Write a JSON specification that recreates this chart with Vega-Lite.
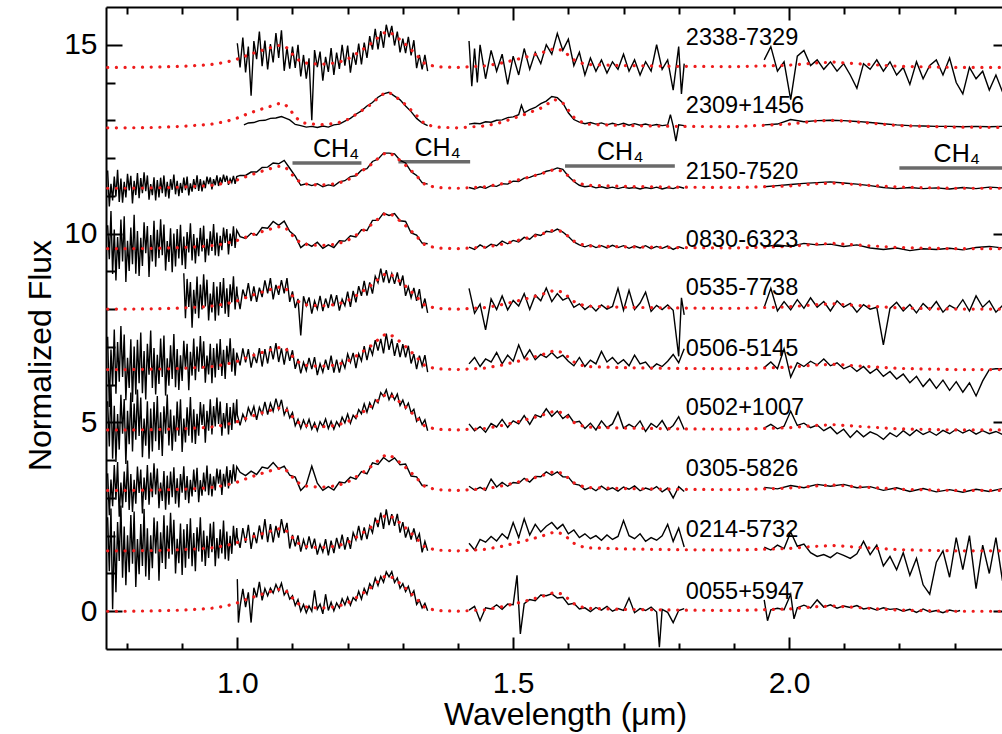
{
"$schema":"https://vega.github.io/schema/vega-lite/v6.json",
"width":896,"height":642,
"autosize":{"type":"none"},
"padding":{"left":106,"top":7,"right":0,"bottom":85},
"config":{"view":{"stroke":null},"font":"Liberation Sans",
"axis":{"domainColor":"#000","domainWidth":2,"tickColor":"#000","tickWidth":2,"labelColor":"#000","labelFontSize":30,"labelFont":"Liberation Sans","titleFont":"Liberation Sans","titleFontSize":32,"titleFontWeight":"normal","titleColor":"#000","grid":false,"labelFlush":false,"labelOverlap":false,"labelBound":false}},
"datasets":{
"ch4":[{"x":1.10,"x2":1.225,"y":11.87,"lx":1.179},{"x":1.292,"x2":1.422,"y":11.9,"lx":1.363},{"x":1.594,"x2":1.793,"y":11.79,"lx":1.694},{"x":2.2,"x2":2.45,"y":11.74,"lx":2.304}],
"lab":[{"t":"2338-7329","x":1.813,"y":15.18},{"t":"2309+1456","x":1.813,"y":13.38},{"t":"2150-7520","x":1.813,"y":11.63},{"t":"0830-6323","x":1.813,"y":9.83},{"t":"0535-7738","x":1.813,"y":8.56},{"t":"0506-5145","x":1.813,"y":6.94},{"t":"0502+1007","x":1.813,"y":5.38},{"t":"0305-5826","x":1.813,"y":3.77},{"t":"0214-5732","x":1.813,"y":2.16},{"t":"0055+5947","x":1.813,"y":0.51}],
"obs":[
{"g":11,"x":1.0,"y":0.85},{"g":11,"x":1.002,"y":-0.3},{"g":11,"x":1.005,"y":0.13},{"g":11,"x":1.01,"y":0.59},{"g":11,"x":1.015,"y":0.11},{"g":11,"x":1.02,"y":0.5},{"g":11,"x":1.025,"y":-0.3},{"g":11,"x":1.03,"y":0.62},{"g":11,"x":1.035,"y":0.37},{"g":11,"x":1.04,"y":0.78},{"g":11,"x":1.045,"y":0.29},{"g":11,"x":1.05,"y":0.6},{"g":11,"x":1.055,"y":0.41},{"g":11,"x":1.06,"y":0.61},{"g":11,"x":1.065,"y":0.48},{"g":11,"x":1.07,"y":0.71},{"g":11,"x":1.075,"y":0.54},{"g":11,"x":1.08,"y":0.74},{"g":11,"x":1.085,"y":0.43},{"g":11,"x":1.09,"y":0.55},{"g":11,"x":1.095,"y":0.32},{"g":11,"x":1.1,"y":0.41},{"g":11,"x":1.105,"y":0.15},{"g":11,"x":1.11,"y":0.31},{"g":11,"x":1.115,"y":0.0},{"g":11,"x":1.12,"y":0.18},{"g":11,"x":1.125,"y":-0.04},{"g":11,"x":1.13,"y":0.14},{"g":11,"x":1.135,"y":0.0},{"g":11,"x":1.14,"y":0.55},{"g":11,"x":1.145,"y":0.05},{"g":11,"x":1.15,"y":0.19},{"g":11,"x":1.155,"y":-0.07},{"g":11,"x":1.16,"y":0.45},{"g":11,"x":1.165,"y":0.02},{"g":11,"x":1.17,"y":0.24},{"g":11,"x":1.175,"y":0.01},{"g":11,"x":1.18,"y":0.22},{"g":11,"x":1.185,"y":0.09},{"g":11,"x":1.19,"y":0.33},{"g":11,"x":1.195,"y":0.17},{"g":11,"x":1.2,"y":0.37},{"g":11,"x":1.205,"y":0.16},{"g":11,"x":1.21,"y":0.36},{"g":11,"x":1.215,"y":0.28},{"g":11,"x":1.22,"y":0.53},{"g":11,"x":1.225,"y":0.32},{"g":11,"x":1.23,"y":0.6},{"g":11,"x":1.235,"y":0.45},{"g":11,"x":1.24,"y":0.73},{"g":11,"x":1.245,"y":0.61},{"g":11,"x":1.25,"y":0.88},{"g":11,"x":1.255,"y":0.68},{"g":11,"x":1.26,"y":0.92},{"g":11,"x":1.265,"y":0.77},{"g":11,"x":1.27,"y":1.04},{"g":11,"x":1.275,"y":0.91},{"g":11,"x":1.28,"y":1.05},{"g":11,"x":1.285,"y":0.76},{"g":11,"x":1.29,"y":0.88},{"g":11,"x":1.295,"y":0.61},{"g":11,"x":1.3,"y":0.73},{"g":11,"x":1.305,"y":0.52},{"g":11,"x":1.31,"y":0.66},{"g":11,"x":1.315,"y":0.41},{"g":11,"x":1.32,"y":0.54},{"g":11,"x":1.325,"y":0.18},{"g":11,"x":1.33,"y":0.29},{"g":11,"x":1.335,"y":0.09},{"g":11,"x":1.34,"y":0.21},{"g":11,"x":1.345,"y":0.01},
{"g":12,"x":1.42,"y":0.03},{"g":12,"x":1.43,"y":0.13},{"g":12,"x":1.44,"y":-0.25},{"g":12,"x":1.45,"y":0.09},{"g":12,"x":1.46,"y":0.06},{"g":12,"x":1.47,"y":0.17},{"g":12,"x":1.48,"y":0.05},{"g":12,"x":1.49,"y":0.19},{"g":12,"x":1.5,"y":0.17},{"g":12,"x":1.507,"y":0.95},{"g":12,"x":1.513,"y":-0.6},{"g":12,"x":1.52,"y":0.2},{"g":12,"x":1.53,"y":0.31},{"g":12,"x":1.54,"y":0.28},{"g":12,"x":1.55,"y":0.43},{"g":12,"x":1.56,"y":0.41},{"g":12,"x":1.57,"y":0.46},{"g":12,"x":1.58,"y":0.35},{"g":12,"x":1.59,"y":0.37},{"g":12,"x":1.6,"y":0.18},{"g":12,"x":1.61,"y":0.21},{"g":12,"x":1.62,"y":0.06},{"g":12,"x":1.63,"y":0.09},{"g":12,"x":1.64,"y":-0.01},{"g":12,"x":1.65,"y":0.1},{"g":12,"x":1.66,"y":0.03},{"g":12,"x":1.67,"y":0.13},{"g":12,"x":1.68,"y":0},{"g":12,"x":1.69,"y":0.07},{"g":12,"x":1.7,"y":0.02},{"g":12,"x":1.71,"y":0.35},{"g":12,"x":1.72,"y":-0.04},{"g":12,"x":1.73,"y":0.07},{"g":12,"x":1.74,"y":0.02},{"g":12,"x":1.75,"y":0.11},{"g":12,"x":1.76,"y":-0.02},{"g":12,"x":1.765,"y":-0.95},{"g":12,"x":1.77,"y":0.05},{"g":12,"x":1.78,"y":-0.03},{"g":12,"x":1.79,"y":-0.3},{"g":12,"x":1.8,"y":0.02},{"g":12,"x":1.81,"y":0.07},
{"g":13,"x":1.955,"y":0.3},{"g":13,"x":1.961,"y":-0.25},{"g":13,"x":1.967,"y":0.04},{"g":13,"x":1.979,"y":0.08},{"g":13,"x":1.991,"y":0.04},{"g":13,"x":2.003,"y":0.45},{"g":13,"x":2.009,"y":-0.2},{"g":13,"x":2.015,"y":0.09},{"g":13,"x":2.027,"y":0.16},{"g":13,"x":2.039,"y":0.09},{"g":13,"x":2.051,"y":0.3},{"g":13,"x":2.063,"y":0.11},{"g":13,"x":2.075,"y":0.17},{"g":13,"x":2.087,"y":0.08},{"g":13,"x":2.099,"y":0.14},{"g":13,"x":2.111,"y":0.1},{"g":13,"x":2.123,"y":0.15},{"g":13,"x":2.135,"y":0.06},{"g":13,"x":2.147,"y":0.09},{"g":13,"x":2.159,"y":0.03},{"g":13,"x":2.171,"y":0.09},{"g":13,"x":2.183,"y":0.05},{"g":13,"x":2.195,"y":0.07},{"g":13,"x":2.207,"y":0},{"g":13,"x":2.219,"y":0.05},{"g":13,"x":2.231,"y":-0.03},{"g":13,"x":2.243,"y":0.06},{"g":13,"x":2.255,"y":-0.02},{"g":13,"x":2.267,"y":0.02},{"g":13,"x":2.279,"y":-0.04},{"g":13,"x":2.291,"y":0.03},{"g":13,"x":2.303,"y":-0.01},{"g":13,"x":2.31,"y":0.02},
{"g":21,"x":0.765,"y":2.49},{"g":21,"x":0.768,"y":1.06},{"g":21,"x":0.771,"y":2.72},{"g":21,"x":0.774,"y":0.05},{"g":21,"x":0.777,"y":2.12},{"g":21,"x":0.78,"y":0.5},{"g":21,"x":0.783,"y":2.36},{"g":21,"x":0.786,"y":1.33},{"g":21,"x":0.789,"y":2.8},{"g":21,"x":0.792,"y":0.89},{"g":21,"x":0.795,"y":2.24},{"g":21,"x":0.798,"y":0.69},{"g":21,"x":0.801,"y":2.01},{"g":21,"x":0.804,"y":1.03},{"g":21,"x":0.807,"y":2.55},{"g":21,"x":0.81,"y":1.26},{"g":21,"x":0.813,"y":2.64},{"g":21,"x":0.816,"y":0.64},{"g":21,"x":0.819,"y":1.91},{"g":21,"x":0.822,"y":0.98},{"g":21,"x":0.825,"y":2.31},{"g":21,"x":0.828,"y":1.2},{"g":21,"x":0.831,"y":2.71},{"g":21,"x":0.834,"y":0.92},{"g":21,"x":0.837,"y":2.2},{"g":21,"x":0.84,"y":0.83},{"g":21,"x":0.843,"y":2.01},{"g":21,"x":0.846,"y":1.14},{"g":21,"x":0.849,"y":2.48},{"g":21,"x":0.852,"y":1.53},{"g":21,"x":0.855,"y":2.38},{"g":21,"x":0.858,"y":0.81},{"g":21,"x":0.861,"y":2.09},{"g":21,"x":0.864,"y":1.28},{"g":21,"x":0.867,"y":2.54},{"g":21,"x":0.87,"y":1.12},{"g":21,"x":0.873,"y":2.27},{"g":21,"x":0.876,"y":1.39},{"g":21,"x":0.879,"y":2.61},{"g":21,"x":0.882,"y":1.5},{"g":21,"x":0.885,"y":2.42},{"g":21,"x":0.888,"y":1.0},{"g":21,"x":0.891,"y":1.92},{"g":21,"x":0.894,"y":1.27},{"g":21,"x":0.897,"y":2.32},{"g":21,"x":0.9,"y":0.96},{"g":21,"x":0.903,"y":2.17},{"g":21,"x":0.906,"y":1.15},{"g":21,"x":0.909,"y":2.31},{"g":21,"x":0.912,"y":1.39},{"g":21,"x":0.915,"y":2.46},{"g":21,"x":0.918,"y":1.19},{"g":21,"x":0.921,"y":2.07},{"g":21,"x":0.924,"y":1.06},{"g":21,"x":0.927,"y":2.22},{"g":21,"x":0.93,"y":1.58},{"g":21,"x":0.933,"y":2.49},{"g":21,"x":0.936,"y":1.31},{"g":21,"x":0.939,"y":2.14},{"g":21,"x":0.942,"y":1.2},{"g":21,"x":0.945,"y":2.0},{"g":21,"x":0.948,"y":1.41},{"g":21,"x":0.951,"y":2.32},{"g":21,"x":0.954,"y":1.56},{"g":21,"x":0.957,"y":2.37},{"g":21,"x":0.96,"y":1.19},{"g":21,"x":0.963,"y":1.94},{"g":21,"x":0.966,"y":1.4},{"g":21,"x":0.969,"y":2.17},{"g":21,"x":0.972,"y":1.53},{"g":21,"x":0.975,"y":2.4},{"g":21,"x":0.978,"y":1.38},{"g":21,"x":0.981,"y":2.11},{"g":21,"x":0.984,"y":1.34},{"g":21,"x":0.987,"y":2.0},{"g":21,"x":0.99,"y":1.52},{"g":21,"x":0.993,"y":2.26},{"g":21,"x":0.996,"y":1.74},{"g":21,"x":0.999,"y":2.2},
{"g":21,"x":1.0,"y":1.97},{"g":21,"x":1.005,"y":1.68},{"g":21,"x":1.01,"y":2.2},{"g":21,"x":1.015,"y":1.81},{"g":21,"x":1.02,"y":2.29},{"g":21,"x":1.025,"y":1.65},{"g":21,"x":1.03,"y":2.09},{"g":21,"x":1.035,"y":1.8},{"g":21,"x":1.04,"y":2.27},{"g":21,"x":1.045,"y":1.9},{"g":21,"x":1.05,"y":2.44},{"g":21,"x":1.055,"y":1.83},{"g":21,"x":1.06,"y":2.31},{"g":21,"x":1.065,"y":1.82},{"g":21,"x":1.07,"y":2.26},{"g":21,"x":1.075,"y":1.95},{"g":21,"x":1.08,"y":2.44},{"g":21,"x":1.085,"y":2.07},{"g":21,"x":1.09,"y":2.34},{"g":21,"x":1.095,"y":1.66},{"g":21,"x":1.1,"y":2.02},{"g":21,"x":1.105,"y":1.72},{"g":21,"x":1.11,"y":2.01},{"g":21,"x":1.115,"y":1.58},{"g":21,"x":1.12,"y":1.89},{"g":21,"x":1.125,"y":1.64},{"g":21,"x":1.13,"y":1.98},{"g":21,"x":1.135,"y":1.66},{"g":21,"x":1.14,"y":1.92},{"g":21,"x":1.145,"y":1.5},{"g":21,"x":1.15,"y":1.77},{"g":21,"x":1.155,"y":1.57},{"g":21,"x":1.16,"y":1.91},{"g":21,"x":1.165,"y":1.48},{"g":21,"x":1.17,"y":1.87},{"g":21,"x":1.175,"y":1.54},{"g":21,"x":1.18,"y":1.94},{"g":21,"x":1.185,"y":1.66},{"g":21,"x":1.19,"y":2.03},{"g":21,"x":1.195,"y":1.63},{"g":21,"x":1.2,"y":1.96},{"g":21,"x":1.205,"y":1.65},{"g":21,"x":1.21,"y":2.08},{"g":21,"x":1.215,"y":1.89},{"g":21,"x":1.22,"y":2.26},{"g":21,"x":1.225,"y":1.88},{"g":21,"x":1.23,"y":2.22},{"g":21,"x":1.235,"y":1.91},{"g":21,"x":1.24,"y":2.26},{"g":21,"x":1.245,"y":2.08},{"g":21,"x":1.25,"y":2.48},{"g":21,"x":1.255,"y":2.23},{"g":21,"x":1.26,"y":2.61},{"g":21,"x":1.265,"y":2.18},{"g":21,"x":1.27,"y":2.7},{"g":21,"x":1.275,"y":2.28},{"g":21,"x":1.28,"y":2.57},{"g":21,"x":1.285,"y":2.26},{"g":21,"x":1.29,"y":2.58},{"g":21,"x":1.295,"y":2.08},{"g":21,"x":1.3,"y":2.36},{"g":21,"x":1.305,"y":1.95},{"g":21,"x":1.31,"y":2.19},{"g":21,"x":1.315,"y":1.9},{"g":21,"x":1.32,"y":2.19},{"g":21,"x":1.325,"y":1.88},{"g":21,"x":1.33,"y":2.05},{"g":21,"x":1.335,"y":1.56},{"g":21,"x":1.34,"y":1.85},{"g":21,"x":1.345,"y":1.6},
{"g":22,"x":1.42,"y":1.8},{"g":22,"x":1.43,"y":1.62},{"g":22,"x":1.44,"y":1.9},{"g":22,"x":1.45,"y":1.83},{"g":22,"x":1.46,"y":1.98},{"g":22,"x":1.47,"y":1.86},{"g":22,"x":1.48,"y":2.05},{"g":22,"x":1.49,"y":1.92},{"g":22,"x":1.5,"y":2.35},{"g":22,"x":1.51,"y":1.95},{"g":22,"x":1.52,"y":2.45},{"g":22,"x":1.53,"y":2.02},{"g":22,"x":1.54,"y":2.3},{"g":22,"x":1.55,"y":2.1},{"g":22,"x":1.56,"y":2.25},{"g":22,"x":1.57,"y":2.35},{"g":22,"x":1.58,"y":2.18},{"g":22,"x":1.59,"y":2.3},{"g":22,"x":1.6,"y":2.05},{"g":22,"x":1.61,"y":2.15},{"g":22,"x":1.62,"y":1.95},{"g":22,"x":1.63,"y":2.05},{"g":22,"x":1.64,"y":1.92},{"g":22,"x":1.65,"y":2.0},{"g":22,"x":1.66,"y":1.88},{"g":22,"x":1.67,"y":2.02},{"g":22,"x":1.68,"y":1.9},{"g":22,"x":1.69,"y":1.98},{"g":22,"x":1.7,"y":2.4},{"g":22,"x":1.71,"y":2.0},{"g":22,"x":1.72,"y":1.92},{"g":22,"x":1.73,"y":2.05},{"g":22,"x":1.74,"y":1.85},{"g":22,"x":1.75,"y":1.95},{"g":22,"x":1.76,"y":1.88},{"g":22,"x":1.77,"y":2.0},{"g":22,"x":1.78,"y":2.3},{"g":22,"x":1.79,"y":1.85},{"g":22,"x":1.8,"y":2.2},{"g":22,"x":1.81,"y":1.7},
{"g":23,"x":1.955,"y":1.7},{"g":23,"x":1.967,"y":1.62},{"g":23,"x":1.979,"y":1.75},{"g":23,"x":1.991,"y":1.66},{"g":23,"x":2.003,"y":2.1},{"g":23,"x":2.015,"y":1.72},{"g":23,"x":2.027,"y":1.78},{"g":23,"x":2.039,"y":1.55},{"g":23,"x":2.051,"y":1.45},{"g":23,"x":2.063,"y":1.5},{"g":23,"x":2.075,"y":1.42},{"g":23,"x":2.087,"y":1.55},{"g":23,"x":2.099,"y":1.48},{"g":23,"x":2.111,"y":1.4},{"g":23,"x":2.123,"y":1.52},{"g":23,"x":2.135,"y":1.85},{"g":23,"x":2.147,"y":1.5},{"g":23,"x":2.159,"y":1.75},{"g":23,"x":2.171,"y":1.2},{"g":23,"x":2.183,"y":1.45},{"g":23,"x":2.195,"y":1.1},{"g":23,"x":2.207,"y":1.55},{"g":23,"x":2.219,"y":0.95},{"g":23,"x":2.231,"y":1.4},{"g":23,"x":2.243,"y":0.7},{"g":23,"x":2.255,"y":0.45},{"g":23,"x":2.267,"y":1.3},{"g":23,"x":2.279,"y":1.6},{"g":23,"x":2.291,"y":0.9},{"g":23,"x":2.303,"y":1.95},{"g":23,"x":2.315,"y":1.1},{"g":23,"x":2.327,"y":2.0},{"g":23,"x":2.339,"y":0.6},{"g":23,"x":2.351,"y":1.75},{"g":23,"x":2.363,"y":1.0},{"g":23,"x":2.375,"y":1.95},{"g":23,"x":2.387,"y":0.8},
{"g":31,"x":0.765,"y":3.65},{"g":31,"x":0.768,"y":2.54},{"g":31,"x":0.771,"y":3.49},{"g":31,"x":0.774,"y":2.78},{"g":31,"x":0.777,"y":3.87},{"g":31,"x":0.78,"y":2.95},{"g":31,"x":0.783,"y":3.95},{"g":31,"x":0.786,"y":2.5},{"g":31,"x":0.789,"y":3.41},{"g":31,"x":0.792,"y":2.74},{"g":31,"x":0.795,"y":3.7},{"g":31,"x":0.798,"y":2.89},{"g":31,"x":0.801,"y":3.99},{"g":31,"x":0.804,"y":2.68},{"g":31,"x":0.807,"y":3.63},{"g":31,"x":0.81,"y":2.63},{"g":31,"x":0.813,"y":3.48},{"g":31,"x":0.816,"y":2.85},{"g":31,"x":0.819,"y":3.83},{"g":31,"x":0.822,"y":3.13},{"g":31,"x":0.825,"y":3.75},{"g":31,"x":0.828,"y":2.59},{"g":31,"x":0.831,"y":3.54},{"g":31,"x":0.834,"y":2.95},{"g":31,"x":0.837,"y":3.87},{"g":31,"x":0.84,"y":2.82},{"g":31,"x":0.843,"y":3.67},{"g":31,"x":0.846,"y":3.02},{"g":31,"x":0.849,"y":3.92},{"g":31,"x":0.852,"y":3.09},{"g":31,"x":0.855,"y":3.78},{"g":31,"x":0.858,"y":2.73},{"g":31,"x":0.861,"y":3.41},{"g":31,"x":0.864,"y":2.92},{"g":31,"x":0.867,"y":3.71},{"g":31,"x":0.87,"y":2.69},{"g":31,"x":0.873,"y":3.59},{"g":31,"x":0.876,"y":2.82},{"g":31,"x":0.879,"y":3.7},{"g":31,"x":0.882,"y":3.02},{"g":31,"x":0.885,"y":3.81},{"g":31,"x":0.888,"y":2.85},{"g":31,"x":0.891,"y":3.52},{"g":31,"x":0.894,"y":2.75},{"g":31,"x":0.897,"y":3.63},{"g":31,"x":0.9,"y":3.14},{"g":31,"x":0.903,"y":3.84},{"g":31,"x":0.906,"y":2.95},{"g":31,"x":0.909,"y":3.58},{"g":31,"x":0.912,"y":2.86},{"g":31,"x":0.915,"y":3.48},{"g":31,"x":0.918,"y":3.04},{"g":31,"x":0.921,"y":3.75},{"g":31,"x":0.924,"y":3.16},{"g":31,"x":0.927,"y":3.8},{"g":31,"x":0.93,"y":2.89},{"g":31,"x":0.933,"y":3.47},{"g":31,"x":0.936,"y":3.06},{"g":31,"x":0.939,"y":3.67},{"g":31,"x":0.942,"y":3.17},{"g":31,"x":0.945,"y":3.86},{"g":31,"x":0.948,"y":3.07},{"g":31,"x":0.951,"y":3.64},{"g":31,"x":0.954,"y":3.04},{"g":31,"x":0.957,"y":3.57},{"g":31,"x":0.96,"y":3.2},{"g":31,"x":0.963,"y":3.78},{"g":31,"x":0.966,"y":3.38},{"g":31,"x":0.969,"y":3.75},{"g":31,"x":0.972,"y":3.08},{"g":31,"x":0.975,"y":3.64},{"g":31,"x":0.978,"y":3.3},{"g":31,"x":0.981,"y":3.84},{"g":31,"x":0.984,"y":3.25},{"g":31,"x":0.987,"y":3.74},{"g":31,"x":0.99,"y":3.38},{"g":31,"x":0.993,"y":3.89},{"g":31,"x":0.996,"y":3.44},{"g":31,"x":0.999,"y":3.83},
{"g":31,"x":1.005,"y":3.68},{"g":31,"x":1.015,"y":3.59},{"g":31,"x":1.025,"y":3.71},{"g":31,"x":1.035,"y":3.62},{"g":31,"x":1.045,"y":3.82},{"g":31,"x":1.055,"y":3.78},{"g":31,"x":1.065,"y":3.94},{"g":31,"x":1.075,"y":3.77},{"g":31,"x":1.085,"y":3.84},{"g":31,"x":1.095,"y":3.6},{"g":31,"x":1.105,"y":3.55},{"g":31,"x":1.115,"y":3.2},{"g":31,"x":1.125,"y":3.35},{"g":31,"x":1.135,"y":3.84},{"g":31,"x":1.145,"y":3.39},{"g":31,"x":1.155,"y":3.2},{"g":31,"x":1.165,"y":3.3},{"g":31,"x":1.175,"y":3.21},{"g":31,"x":1.185,"y":3.42},{"g":31,"x":1.195,"y":3.4},{"g":31,"x":1.205,"y":3.55},{"g":31,"x":1.215,"y":3.5},{"g":31,"x":1.225,"y":3.7},{"g":31,"x":1.235,"y":3.64},{"g":31,"x":1.245,"y":3.93},{"g":31,"x":1.255,"y":3.89},{"g":31,"x":1.265,"y":4.07},{"g":31,"x":1.275,"y":3.96},{"g":31,"x":1.285,"y":4.06},{"g":31,"x":1.295,"y":3.88},{"g":31,"x":1.305,"y":3.9},{"g":31,"x":1.315,"y":3.58},{"g":31,"x":1.325,"y":3.56},{"g":31,"x":1.335,"y":3.33},{"g":31,"x":1.345,"y":3.33},
{"g":32,"x":1.42,"y":3.31},{"g":32,"x":1.43,"y":3.21},{"g":32,"x":1.44,"y":3.28},{"g":32,"x":1.45,"y":3.2},{"g":32,"x":1.46,"y":3.5},{"g":32,"x":1.47,"y":3.29},{"g":32,"x":1.48,"y":3.41},{"g":32,"x":1.49,"y":3.31},{"g":32,"x":1.5,"y":3.41},{"g":32,"x":1.51,"y":3.39},{"g":32,"x":1.52,"y":3.52},{"g":32,"x":1.53,"y":3.42},{"g":32,"x":1.54,"y":3.57},{"g":32,"x":1.55,"y":3.56},{"g":32,"x":1.56,"y":3.69},{"g":32,"x":1.57,"y":3.6},{"g":32,"x":1.58,"y":3.69},{"g":32,"x":1.59,"y":3.56},{"g":32,"x":1.6,"y":3.55},{"g":32,"x":1.61,"y":3.37},{"g":32,"x":1.62,"y":3.34},{"g":32,"x":1.63,"y":3.22},{"g":32,"x":1.64,"y":3.28},{"g":32,"x":1.65,"y":3.19},{"g":32,"x":1.66,"y":3.31},{"g":32,"x":1.67,"y":3.21},{"g":32,"x":1.68,"y":3.27},{"g":32,"x":1.69,"y":3.18},{"g":32,"x":1.7,"y":3.29},{"g":32,"x":1.71,"y":3.23},{"g":32,"x":1.72,"y":3.32},{"g":32,"x":1.73,"y":3.19},{"g":32,"x":1.74,"y":3.26},{"g":32,"x":1.75,"y":3.21},{"g":32,"x":1.76,"y":3.3},{"g":32,"x":1.77,"y":3.16},{"g":32,"x":1.78,"y":3.26},{"g":32,"x":1.79,"y":3.0},{"g":32,"x":1.8,"y":3.3},{"g":32,"x":1.81,"y":3.17},
{"g":33,"x":1.955,"y":3.28},{"g":33,"x":1.979,"y":3.24},{"g":33,"x":2.003,"y":3.33},{"g":33,"x":2.027,"y":3.27},{"g":33,"x":2.051,"y":3.36},{"g":33,"x":2.075,"y":3.31},{"g":33,"x":2.099,"y":3.36},{"g":33,"x":2.123,"y":3.27},{"g":33,"x":2.147,"y":3.3},{"g":33,"x":2.171,"y":3.2},{"g":33,"x":2.195,"y":3.27},{"g":33,"x":2.219,"y":3.17},{"g":33,"x":2.243,"y":3.25},{"g":33,"x":2.267,"y":3.16},{"g":33,"x":2.291,"y":3.22},{"g":33,"x":2.315,"y":3.15},{"g":33,"x":2.339,"y":3.23},{"g":33,"x":2.363,"y":3.17},{"g":33,"x":2.387,"y":3.25},
{"g":41,"x":0.765,"y":5.56},{"g":41,"x":0.768,"y":4.36},{"g":41,"x":0.771,"y":5.98},{"g":41,"x":0.774,"y":4.04},{"g":41,"x":0.777,"y":5.44},{"g":41,"x":0.78,"y":3.95},{"g":41,"x":0.783,"y":5.22},{"g":41,"x":0.786,"y":4.28},{"g":41,"x":0.789,"y":5.73},{"g":41,"x":0.792,"y":4.7},{"g":41,"x":0.795,"y":5.62},{"g":41,"x":0.798,"y":3.9},{"g":41,"x":0.801,"y":5.31},{"g":41,"x":0.804,"y":4.42},{"g":41,"x":0.807,"y":5.79},{"g":41,"x":0.81,"y":4.23},{"g":41,"x":0.813,"y":5.5},{"g":41,"x":0.816,"y":4.54},{"g":41,"x":0.819,"y":5.87},{"g":41,"x":0.822,"y":4.64},{"g":41,"x":0.825,"y":5.66},{"g":41,"x":0.828,"y":4.08},{"g":41,"x":0.831,"y":5.1},{"g":41,"x":0.834,"y":4.38},{"g":41,"x":0.837,"y":5.56},{"g":41,"x":0.84,"y":4.04},{"g":41,"x":0.843,"y":5.37},{"g":41,"x":0.846,"y":4.23},{"g":41,"x":0.849,"y":5.54},{"g":41,"x":0.852,"y":4.5},{"g":41,"x":0.855,"y":5.7},{"g":41,"x":0.858,"y":4.27},{"g":41,"x":0.861,"y":5.27},{"g":41,"x":0.864,"y":4.11},{"g":41,"x":0.867,"y":5.43},{"g":41,"x":0.87,"y":4.7},{"g":41,"x":0.873,"y":5.74},{"g":41,"x":0.876,"y":4.39},{"g":41,"x":0.879,"y":5.34},{"g":41,"x":0.882,"y":4.25},{"g":41,"x":0.885,"y":5.18},{"g":41,"x":0.888,"y":4.49},{"g":41,"x":0.891,"y":5.55},{"g":41,"x":0.894,"y":4.65},{"g":41,"x":0.897,"y":5.61},{"g":41,"x":0.9,"y":4.22},{"g":41,"x":0.903,"y":5.1},{"g":41,"x":0.906,"y":4.47},{"g":41,"x":0.909,"y":5.4},{"g":41,"x":0.912,"y":4.65},{"g":41,"x":0.915,"y":5.67},{"g":41,"x":0.918,"y":4.46},{"g":41,"x":0.921,"y":5.35},{"g":41,"x":0.924,"y":4.43},{"g":41,"x":0.927,"y":5.23},{"g":41,"x":0.93,"y":4.65},{"g":41,"x":0.933,"y":5.54},{"g":41,"x":0.936,"y":4.93},{"g":41,"x":0.939,"y":5.48},{"g":41,"x":0.942,"y":4.46},{"g":41,"x":0.945,"y":5.31},{"g":41,"x":0.948,"y":4.78},{"g":41,"x":0.951,"y":5.61},{"g":41,"x":0.954,"y":4.68},{"g":41,"x":0.957,"y":5.43},{"g":41,"x":0.96,"y":4.89},{"g":41,"x":0.963,"y":5.66},{"g":41,"x":0.966,"y":4.96},{"g":41,"x":0.969,"y":5.55},{"g":41,"x":0.972,"y":4.65},{"g":41,"x":0.975,"y":5.25},{"g":41,"x":0.978,"y":4.84},{"g":41,"x":0.981,"y":5.51},{"g":41,"x":0.984,"y":4.68},{"g":41,"x":0.987,"y":5.41},{"g":41,"x":0.99,"y":4.8},{"g":41,"x":0.993,"y":5.52},{"g":41,"x":0.996,"y":4.97},{"g":41,"x":0.999,"y":5.61},
{"g":41,"x":1.0,"y":5.2},{"g":41,"x":1.005,"y":4.92},{"g":41,"x":1.01,"y":5.22},{"g":41,"x":1.015,"y":5.05},{"g":41,"x":1.02,"y":5.39},{"g":41,"x":1.025,"y":5.2},{"g":41,"x":1.03,"y":5.42},{"g":41,"x":1.035,"y":5.07},{"g":41,"x":1.04,"y":5.4},{"g":41,"x":1.045,"y":5.22},{"g":41,"x":1.05,"y":5.54},{"g":41,"x":1.055,"y":5.21},{"g":41,"x":1.06,"y":5.51},{"g":41,"x":1.065,"y":5.3},{"g":41,"x":1.07,"y":5.63},{"g":41,"x":1.075,"y":5.35},{"g":41,"x":1.08,"y":5.6},{"g":41,"x":1.085,"y":5.2},{"g":41,"x":1.09,"y":5.38},{"g":41,"x":1.095,"y":5.12},{"g":41,"x":1.1,"y":5.26},{"g":41,"x":1.105,"y":4.91},{"g":41,"x":1.11,"y":5.08},{"g":41,"x":1.115,"y":4.84},{"g":41,"x":1.12,"y":5.06},{"g":41,"x":1.125,"y":4.88},{"g":41,"x":1.13,"y":5.08},{"g":41,"x":1.135,"y":4.82},{"g":41,"x":1.14,"y":4.99},{"g":41,"x":1.145,"y":4.78},{"g":41,"x":1.15,"y":5.02},{"g":41,"x":1.155,"y":4.89},{"g":41,"x":1.16,"y":5.09},{"g":41,"x":1.165,"y":4.84},{"g":41,"x":1.17,"y":5.03},{"g":41,"x":1.175,"y":4.82},{"g":41,"x":1.18,"y":5.02},{"g":41,"x":1.185,"y":4.9},{"g":41,"x":1.19,"y":5.14},{"g":41,"x":1.195,"y":4.99},{"g":41,"x":1.2,"y":5.22},{"g":41,"x":1.205,"y":4.98},{"g":41,"x":1.21,"y":5.19},{"g":41,"x":1.215,"y":5.1},{"g":41,"x":1.22,"y":5.34},{"g":41,"x":1.225,"y":5.23},{"g":41,"x":1.23,"y":5.49},{"g":41,"x":1.235,"y":5.27},{"g":41,"x":1.24,"y":5.52},{"g":41,"x":1.245,"y":5.37},{"g":41,"x":1.25,"y":5.6},{"g":41,"x":1.255,"y":5.52},{"g":41,"x":1.26,"y":5.79},{"g":41,"x":1.265,"y":5.69},{"g":41,"x":1.27,"y":5.86},{"g":41,"x":1.275,"y":5.6},{"g":41,"x":1.28,"y":5.77},{"g":41,"x":1.285,"y":5.6},{"g":41,"x":1.29,"y":5.75},{"g":41,"x":1.295,"y":5.45},{"g":41,"x":1.3,"y":5.59},{"g":41,"x":1.305,"y":5.37},{"g":41,"x":1.31,"y":5.51},{"g":41,"x":1.315,"y":5.26},{"g":41,"x":1.32,"y":5.35},{"g":41,"x":1.325,"y":5.03},{"g":41,"x":1.33,"y":5.13},{"g":41,"x":1.335,"y":4.94},{"g":41,"x":1.34,"y":5.07},{"g":41,"x":1.345,"y":4.78},
{"g":42,"x":1.42,"y":4.96},{"g":42,"x":1.43,"y":4.78},{"g":42,"x":1.44,"y":4.89},{"g":42,"x":1.45,"y":4.74},{"g":42,"x":1.46,"y":4.97},{"g":42,"x":1.47,"y":4.88},{"g":42,"x":1.48,"y":5.08},{"g":42,"x":1.49,"y":4.87},{"g":42,"x":1.5,"y":5.04},{"g":42,"x":1.51,"y":4.96},{"g":42,"x":1.52,"y":5.18},{"g":42,"x":1.53,"y":4.95},{"g":42,"x":1.54,"y":5.2},{"g":42,"x":1.55,"y":5.14},{"g":42,"x":1.56,"y":5.36},{"g":42,"x":1.57,"y":5.16},{"g":42,"x":1.58,"y":5.3},{"g":42,"x":1.59,"y":5.1},{"g":42,"x":1.6,"y":5.21},{"g":42,"x":1.61,"y":5.0},{"g":42,"x":1.62,"y":5.03},{"g":42,"x":1.63,"y":4.84},{"g":42,"x":1.64,"y":4.98},{"g":42,"x":1.65,"y":4.8},{"g":42,"x":1.66,"y":5.04},{"g":42,"x":1.67,"y":4.86},{"g":42,"x":1.68,"y":4.96},{"g":42,"x":1.69,"y":5.27},{"g":42,"x":1.7,"y":4.85},{"g":42,"x":1.71,"y":4.95},{"g":42,"x":1.72,"y":4.86},{"g":42,"x":1.73,"y":5.04},{"g":42,"x":1.74,"y":4.76},{"g":42,"x":1.75,"y":4.97},{"g":42,"x":1.76,"y":4.87},{"g":42,"x":1.77,"y":5.05},{"g":42,"x":1.78,"y":4.8},{"g":42,"x":1.79,"y":4.92},{"g":42,"x":1.8,"y":5.15},{"g":42,"x":1.81,"y":4.81},
{"g":43,"x":1.955,"y":4.85},{"g":43,"x":1.967,"y":4.95},{"g":43,"x":1.979,"y":4.83},{"g":43,"x":1.991,"y":4.9},{"g":43,"x":2.003,"y":5.3},{"g":43,"x":2.015,"y":4.92},{"g":43,"x":2.027,"y":4.98},{"g":43,"x":2.039,"y":4.86},{"g":43,"x":2.051,"y":4.93},{"g":43,"x":2.063,"y":4.78},{"g":43,"x":2.075,"y":4.88},{"g":43,"x":2.087,"y":4.7},{"g":43,"x":2.099,"y":4.82},{"g":43,"x":2.111,"y":4.6},{"g":43,"x":2.123,"y":4.78},{"g":43,"x":2.135,"y":4.62},{"g":43,"x":2.147,"y":4.75},{"g":43,"x":2.159,"y":4.68},{"g":43,"x":2.171,"y":4.55},{"g":43,"x":2.183,"y":4.72},{"g":43,"x":2.195,"y":4.62},{"g":43,"x":2.207,"y":4.78},{"g":43,"x":2.219,"y":4.65},{"g":43,"x":2.231,"y":4.8},{"g":43,"x":2.243,"y":4.68},{"g":43,"x":2.255,"y":4.76},{"g":43,"x":2.267,"y":4.66},{"g":43,"x":2.279,"y":4.79},{"g":43,"x":2.291,"y":4.7},{"g":43,"x":2.303,"y":4.82},{"g":43,"x":2.315,"y":4.72},{"g":43,"x":2.327,"y":4.8},{"g":43,"x":2.339,"y":4.69},{"g":43,"x":2.351,"y":4.78},{"g":43,"x":2.363,"y":4.7},{"g":43,"x":2.375,"y":4.76},{"g":43,"x":2.387,"y":4.68},
{"g":51,"x":0.765,"y":7.27},{"g":51,"x":0.768,"y":5.41},{"g":51,"x":0.771,"y":6.93},{"g":51,"x":0.774,"y":5.96},{"g":51,"x":0.777,"y":7.46},{"g":51,"x":0.78,"y":5.76},{"g":51,"x":0.783,"y":7.13},{"g":51,"x":0.786,"y":6.08},{"g":51,"x":0.789,"y":7.55},{"g":51,"x":0.792,"y":6.2},{"g":51,"x":0.795,"y":7.33},{"g":51,"x":0.798,"y":5.59},{"g":51,"x":0.801,"y":6.71},{"g":51,"x":0.804,"y":5.91},{"g":51,"x":0.807,"y":7.2},{"g":51,"x":0.81,"y":5.54},{"g":51,"x":0.813,"y":7.01},{"g":51,"x":0.816,"y":5.74},{"g":51,"x":0.819,"y":7.19},{"g":51,"x":0.822,"y":6.04},{"g":51,"x":0.825,"y":7.38},{"g":51,"x":0.828,"y":5.77},{"g":51,"x":0.831,"y":6.89},{"g":51,"x":0.834,"y":5.61},{"g":51,"x":0.837,"y":7.08},{"g":51,"x":0.84,"y":6.26},{"g":51,"x":0.843,"y":7.43},{"g":51,"x":0.846,"y":5.91},{"g":51,"x":0.849,"y":6.97},{"g":51,"x":0.852,"y":5.74},{"g":51,"x":0.855,"y":6.79},{"g":51,"x":0.858,"y":6.02},{"g":51,"x":0.861,"y":7.22},{"g":51,"x":0.864,"y":6.2},{"g":51,"x":0.867,"y":7.3},{"g":51,"x":0.87,"y":5.71},{"g":51,"x":0.873,"y":6.7},{"g":51,"x":0.876,"y":5.97},{"g":51,"x":0.879,"y":7.04},{"g":51,"x":0.882,"y":6.15},{"g":51,"x":0.885,"y":7.34},{"g":51,"x":0.888,"y":5.93},{"g":51,"x":0.891,"y":6.94},{"g":51,"x":0.894,"y":5.86},{"g":51,"x":0.897,"y":6.78},{"g":51,"x":0.9,"y":6.1},{"g":51,"x":0.903,"y":7.16},{"g":51,"x":0.906,"y":6.41},{"g":51,"x":0.909,"y":7.08},{"g":51,"x":0.912,"y":5.85},{"g":51,"x":0.915,"y":6.87},{"g":51,"x":0.918,"y":6.24},{"g":51,"x":0.921,"y":7.22},{"g":51,"x":0.924,"y":6.12},{"g":51,"x":0.927,"y":7.01},{"g":51,"x":0.93,"y":6.34},{"g":51,"x":0.933,"y":7.29},{"g":51,"x":0.936,"y":6.42},{"g":51,"x":0.939,"y":7.15},{"g":51,"x":0.942,"y":6.05},{"g":51,"x":0.945,"y":6.77},{"g":51,"x":0.948,"y":6.27},{"g":51,"x":0.951,"y":7.08},{"g":51,"x":0.954,"y":6.04},{"g":51,"x":0.957,"y":6.97},{"g":51,"x":0.96,"y":6.19},{"g":51,"x":0.963,"y":7.09},{"g":51,"x":0.966,"y":6.39},{"g":51,"x":0.969,"y":7.21},{"g":51,"x":0.972,"y":6.23},{"g":51,"x":0.975,"y":6.92},{"g":51,"x":0.978,"y":6.15},{"g":51,"x":0.981,"y":7.03},{"g":51,"x":0.984,"y":6.54},{"g":51,"x":0.987,"y":7.23},{"g":51,"x":0.99,"y":6.34},{"g":51,"x":0.993,"y":6.96},{"g":51,"x":0.996,"y":6.24},{"g":51,"x":0.999,"y":6.85},
{"g":51,"x":1.0,"y":6.79},{"g":51,"x":1.005,"y":6.51},{"g":51,"x":1.01,"y":6.96},{"g":51,"x":1.015,"y":6.59},{"g":51,"x":1.02,"y":6.94},{"g":51,"x":1.025,"y":6.45},{"g":51,"x":1.03,"y":6.8},{"g":51,"x":1.035,"y":6.57},{"g":51,"x":1.04,"y":6.97},{"g":51,"x":1.045,"y":6.48},{"g":51,"x":1.05,"y":6.94},{"g":51,"x":1.055,"y":6.56},{"g":51,"x":1.06,"y":7.02},{"g":51,"x":1.065,"y":6.67},{"g":51,"x":1.07,"y":7.1},{"g":51,"x":1.075,"y":6.6},{"g":51,"x":1.08,"y":6.96},{"g":51,"x":1.085,"y":6.53},{"g":51,"x":1.09,"y":6.97},{"g":51,"x":1.095,"y":6.63},{"g":51,"x":1.1,"y":6.91},{"g":51,"x":1.105,"y":6.42},{"g":51,"x":1.11,"y":6.68},{"g":51,"x":1.115,"y":6.3},{"g":51,"x":1.12,"y":6.59},{"g":51,"x":1.125,"y":6.37},{"g":51,"x":1.13,"y":6.71},{"g":51,"x":1.135,"y":6.41},{"g":51,"x":1.14,"y":6.73},{"g":51,"x":1.145,"y":6.25},{"g":51,"x":1.15,"y":6.55},{"g":51,"x":1.155,"y":6.33},{"g":51,"x":1.16,"y":6.66},{"g":51,"x":1.165,"y":6.39},{"g":51,"x":1.17,"y":6.77},{"g":51,"x":1.175,"y":6.32},{"g":51,"x":1.18,"y":6.66},{"g":51,"x":1.185,"y":6.32},{"g":51,"x":1.19,"y":6.64},{"g":51,"x":1.195,"y":6.44},{"g":51,"x":1.2,"y":6.81},{"g":51,"x":1.205,"y":6.59},{"g":51,"x":1.21,"y":6.84},{"g":51,"x":1.215,"y":6.44},{"g":51,"x":1.22,"y":6.82},{"g":51,"x":1.225,"y":6.63},{"g":51,"x":1.23,"y":7.02},{"g":51,"x":1.235,"y":6.65},{"g":51,"x":1.24,"y":7.0},{"g":51,"x":1.245,"y":6.79},{"g":51,"x":1.25,"y":7.18},{"g":51,"x":1.255,"y":6.9},{"g":51,"x":1.26,"y":7.21},{"g":51,"x":1.265,"y":6.83},{"g":51,"x":1.27,"y":7.35},{"g":51,"x":1.275,"y":6.92},{"g":51,"x":1.28,"y":7.21},{"g":51,"x":1.285,"y":6.76},{"g":51,"x":1.29,"y":7.1},{"g":51,"x":1.295,"y":6.73},{"g":51,"x":1.3,"y":7.07},{"g":51,"x":1.305,"y":6.72},{"g":51,"x":1.31,"y":7.03},{"g":51,"x":1.315,"y":6.56},{"g":51,"x":1.32,"y":6.81},{"g":51,"x":1.325,"y":6.41},{"g":51,"x":1.33,"y":6.77},{"g":51,"x":1.335,"y":6.5},{"g":51,"x":1.34,"y":6.78},{"g":51,"x":1.345,"y":6.33},
{"g":52,"x":1.42,"y":6.55},{"g":52,"x":1.43,"y":6.72},{"g":52,"x":1.44,"y":6.48},{"g":52,"x":1.45,"y":6.68},{"g":52,"x":1.46,"y":6.6},{"g":52,"x":1.47,"y":6.85},{"g":52,"x":1.48,"y":6.55},{"g":52,"x":1.49,"y":6.78},{"g":52,"x":1.5,"y":6.62},{"g":52,"x":1.51,"y":7.05},{"g":52,"x":1.52,"y":6.7},{"g":52,"x":1.53,"y":6.92},{"g":52,"x":1.54,"y":6.66},{"g":52,"x":1.55,"y":6.8},{"g":52,"x":1.56,"y":6.72},{"g":52,"x":1.57,"y":6.85},{"g":52,"x":1.58,"y":6.7},{"g":52,"x":1.59,"y":6.78},{"g":52,"x":1.6,"y":6.62},{"g":52,"x":1.61,"y":6.5},{"g":52,"x":1.62,"y":6.72},{"g":52,"x":1.63,"y":6.48},{"g":52,"x":1.64,"y":6.65},{"g":52,"x":1.65,"y":6.55},{"g":52,"x":1.66,"y":6.88},{"g":52,"x":1.67,"y":6.6},{"g":52,"x":1.68,"y":6.72},{"g":52,"x":1.69,"y":6.55},{"g":52,"x":1.7,"y":6.66},{"g":52,"x":1.71,"y":6.5},{"g":52,"x":1.72,"y":6.78},{"g":52,"x":1.73,"y":6.55},{"g":52,"x":1.74,"y":6.6},{"g":52,"x":1.75,"y":6.42},{"g":52,"x":1.76,"y":6.55},{"g":52,"x":1.77,"y":6.48},{"g":52,"x":1.78,"y":6.62},{"g":52,"x":1.79,"y":6.8},{"g":52,"x":1.8,"y":6.58},{"g":52,"x":1.81,"y":6.95},
{"g":53,"x":1.955,"y":6.45},{"g":53,"x":1.967,"y":6.6},{"g":53,"x":1.979,"y":6.42},{"g":53,"x":1.991,"y":6.95},{"g":53,"x":2.003,"y":6.2},{"g":53,"x":2.015,"y":6.58},{"g":53,"x":2.027,"y":6.48},{"g":53,"x":2.039,"y":6.62},{"g":53,"x":2.051,"y":6.52},{"g":53,"x":2.063,"y":6.68},{"g":53,"x":2.075,"y":6.5},{"g":53,"x":2.087,"y":6.58},{"g":53,"x":2.099,"y":6.42},{"g":53,"x":2.111,"y":6.5},{"g":53,"x":2.123,"y":6.35},{"g":53,"x":2.135,"y":6.48},{"g":53,"x":2.147,"y":6.3},{"g":53,"x":2.159,"y":6.42},{"g":53,"x":2.171,"y":6.22},{"g":53,"x":2.183,"y":6.35},{"g":53,"x":2.195,"y":6.15},{"g":53,"x":2.207,"y":6.28},{"g":53,"x":2.219,"y":6.05},{"g":53,"x":2.231,"y":6.22},{"g":53,"x":2.243,"y":5.95},{"g":53,"x":2.255,"y":6.15},{"g":53,"x":2.267,"y":5.9},{"g":53,"x":2.279,"y":6.12},{"g":53,"x":2.291,"y":5.85},{"g":53,"x":2.303,"y":6.08},{"g":53,"x":2.315,"y":5.8},{"g":53,"x":2.327,"y":6.05},{"g":53,"x":2.339,"y":5.7},{"g":53,"x":2.351,"y":6.1},{"g":53,"x":2.363,"y":6.4},{"g":53,"x":2.375,"y":6.42},{"g":53,"x":2.387,"y":6.42},
{"g":61,"x":0.903,"y":8.95},{"g":61,"x":0.906,"y":7.76},{"g":61,"x":0.909,"y":8.8},{"g":61,"x":0.912,"y":8.06},{"g":61,"x":0.915,"y":8.72},{"g":61,"x":0.918,"y":7.51},{"g":61,"x":0.921,"y":8.51},{"g":61,"x":0.924,"y":7.88},{"g":61,"x":0.927,"y":8.86},{"g":61,"x":0.93,"y":7.76},{"g":61,"x":0.933,"y":8.65},{"g":61,"x":0.936,"y":7.99},{"g":61,"x":0.939,"y":8.92},{"g":61,"x":0.942,"y":8.07},{"g":61,"x":0.945,"y":8.78},{"g":61,"x":0.948,"y":7.7},{"g":61,"x":0.951,"y":8.41},{"g":61,"x":0.954,"y":7.91},{"g":61,"x":0.957,"y":8.72},{"g":61,"x":0.96,"y":7.69},{"g":61,"x":0.963,"y":8.6},{"g":61,"x":0.966,"y":7.83},{"g":61,"x":0.969,"y":8.72},{"g":61,"x":0.972,"y":8.03},{"g":61,"x":0.975,"y":8.82},{"g":61,"x":0.978,"y":7.88},{"g":61,"x":0.981,"y":8.55},{"g":61,"x":0.984,"y":7.79},{"g":61,"x":0.987,"y":8.66},{"g":61,"x":0.99,"y":8.18},{"g":61,"x":0.993,"y":8.87},{"g":61,"x":0.996,"y":7.99},{"g":61,"x":0.999,"y":8.6},
{"g":61,"x":1.0,"y":8.4},{"g":61,"x":1.005,"y":8.0},{"g":61,"x":1.01,"y":8.52},{"g":61,"x":1.015,"y":8.28},{"g":61,"x":1.02,"y":8.69},{"g":61,"x":1.025,"y":8.21},{"g":61,"x":1.03,"y":8.6},{"g":61,"x":1.035,"y":8.19},{"g":61,"x":1.04,"y":8.57},{"g":61,"x":1.045,"y":8.32},{"g":61,"x":1.05,"y":8.76},{"g":61,"x":1.055,"y":8.42},{"g":61,"x":1.06,"y":8.82},{"g":61,"x":1.065,"y":8.26},{"g":61,"x":1.07,"y":8.64},{"g":61,"x":1.075,"y":8.38},{"g":61,"x":1.08,"y":8.77},{"g":61,"x":1.085,"y":8.42},{"g":61,"x":1.09,"y":8.82},{"g":61,"x":1.095,"y":8.19},{"g":61,"x":1.1,"y":8.47},{"g":61,"x":1.105,"y":8.03},{"g":61,"x":1.11,"y":8.27},{"g":61,"x":1.115,"y":7.3},{"g":61,"x":1.12,"y":8.34},{"g":61,"x":1.125,"y":8.09},{"g":61,"x":1.13,"y":8.31},{"g":61,"x":1.135,"y":7.88},{"g":61,"x":1.14,"y":8.22},{"g":61,"x":1.145,"y":8.0},{"g":61,"x":1.15,"y":8.35},{"g":61,"x":1.155,"y":7.95},{"g":61,"x":1.16,"y":8.28},{"g":61,"x":1.165,"y":8.03},{"g":61,"x":1.17,"y":8.39},{"g":61,"x":1.175,"y":8.08},{"g":61,"x":1.18,"y":8.37},{"g":61,"x":1.185,"y":7.96},{"g":61,"x":1.19,"y":8.26},{"g":61,"x":1.195,"y":8.09},{"g":61,"x":1.2,"y":8.46},{"g":61,"x":1.205,"y":8.06},{"g":61,"x":1.21,"y":8.48},{"g":61,"x":1.215,"y":8.18},{"g":61,"x":1.22,"y":8.61},{"g":61,"x":1.225,"y":8.35},{"g":61,"x":1.23,"y":8.75},{"g":61,"x":1.235,"y":8.36},{"g":61,"x":1.24,"y":8.71},{"g":61,"x":1.245,"y":8.41},{"g":61,"x":1.25,"y":8.87},{"g":61,"x":1.255,"y":8.7},{"g":61,"x":1.26,"y":9.07},{"g":61,"x":1.265,"y":8.71},{"g":61,"x":1.27,"y":9.03},{"g":61,"x":1.275,"y":8.69},{"g":61,"x":1.28,"y":8.94},{"g":61,"x":1.285,"y":8.67},{"g":61,"x":1.29,"y":8.97},{"g":61,"x":1.295,"y":8.62},{"g":61,"x":1.3,"y":8.89},{"g":61,"x":1.305,"y":8.35},{"g":61,"x":1.31,"y":8.59},{"g":61,"x":1.315,"y":8.3},{"g":61,"x":1.32,"y":8.56},{"g":61,"x":1.325,"y":8.22},{"g":61,"x":1.33,"y":8.53},{"g":61,"x":1.335,"y":8.02},{"g":61,"x":1.34,"y":8.28},{"g":61,"x":1.345,"y":7.9},
{"g":62,"x":1.42,"y":8.55},{"g":62,"x":1.43,"y":7.89},{"g":62,"x":1.44,"y":8.13},{"g":62,"x":1.45,"y":7.45},{"g":62,"x":1.46,"y":8.27},{"g":62,"x":1.47,"y":7.99},{"g":62,"x":1.48,"y":8.35},{"g":62,"x":1.49,"y":7.98},{"g":62,"x":1.5,"y":8.23},{"g":62,"x":1.51,"y":8.08},{"g":62,"x":1.52,"y":8.41},{"g":62,"x":1.53,"y":7.99},{"g":62,"x":1.54,"y":8.37},{"g":62,"x":1.55,"y":8.22},{"g":62,"x":1.56,"y":8.56},{"g":62,"x":1.57,"y":8.2},{"g":62,"x":1.58,"y":8.41},{"g":62,"x":1.59,"y":8.24},{"g":62,"x":1.6,"y":8.31},{"g":62,"x":1.61,"y":8.05},{"g":62,"x":1.62,"y":8.14},{"g":62,"x":1.63,"y":7.99},{"g":62,"x":1.64,"y":8.1},{"g":62,"x":1.65,"y":7.95},{"g":62,"x":1.66,"y":8.11},{"g":62,"x":1.67,"y":8.0},{"g":62,"x":1.68,"y":8.07},{"g":62,"x":1.69,"y":8.55},{"g":62,"x":1.7,"y":7.97},{"g":62,"x":1.71,"y":8.5},{"g":62,"x":1.72,"y":7.99},{"g":62,"x":1.73,"y":8.16},{"g":62,"x":1.74,"y":8.45},{"g":62,"x":1.75,"y":7.94},{"g":62,"x":1.76,"y":8.1},{"g":62,"x":1.77,"y":7.99},{"g":62,"x":1.78,"y":8.11},{"g":62,"x":1.79,"y":7.97},{"g":62,"x":1.8,"y":6.75},{"g":62,"x":1.805,"y":8.3},{"g":62,"x":1.81,"y":7.85},
{"g":63,"x":1.955,"y":8.05},{"g":63,"x":1.967,"y":8.55},{"g":63,"x":1.979,"y":7.95},{"g":63,"x":1.991,"y":8.2},{"g":63,"x":2.003,"y":7.98},{"g":63,"x":2.015,"y":8.25},{"g":63,"x":2.027,"y":8.02},{"g":63,"x":2.039,"y":8.3},{"g":63,"x":2.051,"y":8.05},{"g":63,"x":2.063,"y":8.2},{"g":63,"x":2.075,"y":7.95},{"g":63,"x":2.087,"y":8.22},{"g":63,"x":2.099,"y":8.05},{"g":63,"x":2.111,"y":8.15},{"g":63,"x":2.123,"y":7.92},{"g":63,"x":2.135,"y":8.12},{"g":63,"x":2.147,"y":8.0},{"g":63,"x":2.159,"y":8.05},{"g":63,"x":2.171,"y":7.05},{"g":63,"x":2.183,"y":8.02},{"g":63,"x":2.195,"y":8.18},{"g":63,"x":2.207,"y":7.95},{"g":63,"x":2.219,"y":8.12},{"g":63,"x":2.231,"y":7.9},{"g":63,"x":2.243,"y":8.15},{"g":63,"x":2.255,"y":7.98},{"g":63,"x":2.267,"y":8.2},{"g":63,"x":2.279,"y":7.92},{"g":63,"x":2.291,"y":8.1},{"g":63,"x":2.303,"y":8.0},{"g":63,"x":2.315,"y":8.25},{"g":63,"x":2.327,"y":7.95},{"g":63,"x":2.339,"y":8.35},{"g":63,"x":2.351,"y":8.05},{"g":63,"x":2.363,"y":8.22},{"g":63,"x":2.375,"y":7.92},{"g":63,"x":2.387,"y":8.1},
{"g":71,"x":0.765,"y":10.22},{"g":71,"x":0.768,"y":9.32},{"g":71,"x":0.771,"y":10.6},{"g":71,"x":0.774,"y":8.93},{"g":71,"x":0.777,"y":10.11},{"g":71,"x":0.78,"y":8.76},{"g":71,"x":0.783,"y":9.91},{"g":71,"x":0.786,"y":9.06},{"g":71,"x":0.789,"y":10.37},{"g":71,"x":0.792,"y":9.26},{"g":71,"x":0.795,"y":10.46},{"g":71,"x":0.798,"y":8.72},{"g":71,"x":0.801,"y":9.81},{"g":71,"x":0.804,"y":9.01},{"g":71,"x":0.807,"y":10.16},{"g":71,"x":0.81,"y":9.19},{"g":71,"x":0.813,"y":10.5},{"g":71,"x":0.816,"y":8.94},{"g":71,"x":0.819,"y":10.07},{"g":71,"x":0.822,"y":8.88},{"g":71,"x":0.825,"y":9.89},{"g":71,"x":0.828,"y":9.14},{"g":71,"x":0.831,"y":10.3},{"g":71,"x":0.834,"y":9.48},{"g":71,"x":0.837,"y":10.2},{"g":71,"x":0.84,"y":8.85},{"g":71,"x":0.843,"y":9.96},{"g":71,"x":0.846,"y":9.26},{"g":71,"x":0.849,"y":10.34},{"g":71,"x":0.852,"y":9.12},{"g":71,"x":0.855,"y":10.1},{"g":71,"x":0.858,"y":9.35},{"g":71,"x":0.861,"y":10.38},{"g":71,"x":0.864,"y":9.43},{"g":71,"x":0.867,"y":10.24},{"g":71,"x":0.87,"y":9.02},{"g":71,"x":0.873,"y":9.8},{"g":71,"x":0.876,"y":9.25},{"g":71,"x":0.879,"y":10.14},{"g":71,"x":0.882,"y":8.98},{"g":71,"x":0.885,"y":10.0},{"g":71,"x":0.888,"y":9.13},{"g":71,"x":0.891,"y":10.12},{"g":71,"x":0.894,"y":9.34},{"g":71,"x":0.897,"y":10.23},{"g":71,"x":0.9,"y":9.16},{"g":71,"x":0.903,"y":9.92},{"g":71,"x":0.906,"y":9.06},{"g":71,"x":0.909,"y":10.04},{"g":71,"x":0.912,"y":9.5},{"g":71,"x":0.915,"y":10.27},{"g":71,"x":0.918,"y":9.29},{"g":71,"x":0.921,"y":9.99},{"g":71,"x":0.924,"y":9.21},{"g":71,"x":0.927,"y":9.89},{"g":71,"x":0.93,"y":9.4},{"g":71,"x":0.933,"y":10.15},{"g":71,"x":0.936,"y":9.53},{"g":71,"x":0.939,"y":10.21},{"g":71,"x":0.942,"y":9.24},{"g":71,"x":0.945,"y":9.86},{"g":71,"x":0.948,"y":9.42},{"g":71,"x":0.951,"y":10.06},{"g":71,"x":0.954,"y":9.54},{"g":71,"x":0.957,"y":10.25},{"g":71,"x":0.96,"y":9.42},{"g":71,"x":0.963,"y":10.03},{"g":71,"x":0.966,"y":9.4},{"g":71,"x":0.969,"y":9.94},{"g":71,"x":0.972,"y":9.56},{"g":71,"x":0.975,"y":10.16},{"g":71,"x":0.978,"y":9.75},{"g":71,"x":0.981,"y":10.12},{"g":71,"x":0.984,"y":9.45},{"g":71,"x":0.987,"y":10.0},{"g":71,"x":0.99,"y":9.67},{"g":71,"x":0.993,"y":10.19},{"g":71,"x":0.996,"y":9.62},{"g":71,"x":0.999,"y":10.09},
{"g":71,"x":1.005,"y":9.92},{"g":71,"x":1.015,"y":9.87},{"g":71,"x":1.025,"y":10.01},{"g":71,"x":1.035,"y":9.96},{"g":71,"x":1.045,"y":10.16},{"g":71,"x":1.055,"y":10.14},{"g":71,"x":1.065,"y":10.32},{"g":71,"x":1.075,"y":10.22},{"g":71,"x":1.085,"y":10.33},{"g":71,"x":1.095,"y":10.06},{"g":71,"x":1.105,"y":9.94},{"g":71,"x":1.115,"y":9.63},{"g":71,"x":1.125,"y":9.74},{"g":71,"x":1.135,"y":9.66},{"g":71,"x":1.145,"y":9.77},{"g":71,"x":1.155,"y":9.61},{"g":71,"x":1.165,"y":9.7},{"g":71,"x":1.175,"y":9.63},{"g":71,"x":1.185,"y":9.81},{"g":71,"x":1.195,"y":9.8},{"g":71,"x":1.205,"y":9.94},{"g":71,"x":1.215,"y":9.91},{"g":71,"x":1.225,"y":10.1},{"g":71,"x":1.235,"y":10.08},{"g":71,"x":1.245,"y":10.35},{"g":71,"x":1.255,"y":10.35},{"g":71,"x":1.265,"y":10.54},{"g":71,"x":1.275,"y":10.48},{"g":71,"x":1.285,"y":10.53},{"g":71,"x":1.295,"y":10.34},{"g":71,"x":1.305,"y":10.32},{"g":71,"x":1.315,"y":10.02},{"g":71,"x":1.325,"y":9.96},{"g":71,"x":1.335,"y":9.75},{"g":71,"x":1.345,"y":9.73},
{"g":72,"x":1.42,"y":9.64},{"g":72,"x":1.43,"y":9.58},{"g":72,"x":1.44,"y":9.7},{"g":72,"x":1.45,"y":9.62},{"g":72,"x":1.46,"y":9.72},{"g":72,"x":1.47,"y":9.68},{"g":72,"x":1.48,"y":9.8},{"g":72,"x":1.49,"y":9.73},{"g":72,"x":1.5,"y":9.82},{"g":72,"x":1.51,"y":9.78},{"g":72,"x":1.52,"y":9.9},{"g":72,"x":1.53,"y":9.85},{"g":72,"x":1.54,"y":9.98},{"g":72,"x":1.55,"y":9.95},{"g":72,"x":1.56,"y":10.06},{"g":72,"x":1.57,"y":10.04},{"g":72,"x":1.58,"y":10.12},{"g":72,"x":1.59,"y":10.04},{"g":72,"x":1.6,"y":9.92},{"g":72,"x":1.61,"y":9.78},{"g":72,"x":1.62,"y":9.7},{"g":72,"x":1.63,"y":9.65},{"g":72,"x":1.64,"y":9.7},{"g":72,"x":1.65,"y":9.63},{"g":72,"x":1.66,"y":9.68},{"g":72,"x":1.67,"y":9.62},{"g":72,"x":1.68,"y":9.69},{"g":72,"x":1.69,"y":9.63},{"g":72,"x":1.7,"y":9.68},{"g":72,"x":1.71,"y":9.61},{"g":72,"x":1.72,"y":9.67},{"g":72,"x":1.73,"y":9.62},{"g":72,"x":1.74,"y":9.68},{"g":72,"x":1.75,"y":9.6},{"g":72,"x":1.76,"y":9.66},{"g":72,"x":1.77,"y":9.61},{"g":72,"x":1.78,"y":9.67},{"g":72,"x":1.79,"y":9.58},{"g":72,"x":1.8,"y":9.65},{"g":72,"x":1.81,"y":9.6},
{"g":73,"x":1.955,"y":9.65},{"g":73,"x":1.979,"y":9.7},{"g":73,"x":2.003,"y":9.66},{"g":73,"x":2.027,"y":9.74},{"g":73,"x":2.051,"y":9.7},{"g":73,"x":2.075,"y":9.72},{"g":73,"x":2.099,"y":9.66},{"g":73,"x":2.123,"y":9.7},{"g":73,"x":2.147,"y":9.62},{"g":73,"x":2.171,"y":9.58},{"g":73,"x":2.195,"y":9.62},{"g":73,"x":2.219,"y":9.55},{"g":73,"x":2.243,"y":9.6},{"g":73,"x":2.267,"y":9.58},{"g":73,"x":2.291,"y":9.61},{"g":73,"x":2.315,"y":9.57},{"g":73,"x":2.339,"y":9.63},{"g":73,"x":2.363,"y":9.66},{"g":73,"x":2.387,"y":9.62},
{"g":81,"x":0.765,"y":11.67},{"g":81,"x":0.768,"y":10.72},{"g":81,"x":0.771,"y":11.32},{"g":81,"x":0.774,"y":10.88},{"g":81,"x":0.777,"y":11.51},{"g":81,"x":0.78,"y":10.98},{"g":81,"x":0.783,"y":11.69},{"g":81,"x":0.786,"y":10.84},{"g":81,"x":0.789,"y":11.46},{"g":81,"x":0.792,"y":10.82},{"g":81,"x":0.795,"y":11.37},{"g":81,"x":0.798,"y":10.96},{"g":81,"x":0.801,"y":11.58},{"g":81,"x":0.804,"y":11.14},{"g":81,"x":0.807,"y":11.53},{"g":81,"x":0.81,"y":10.8},{"g":81,"x":0.813,"y":11.4},{"g":81,"x":0.816,"y":11.02},{"g":81,"x":0.819,"y":11.6},{"g":81,"x":0.822,"y":10.94},{"g":81,"x":0.825,"y":11.47},{"g":81,"x":0.828,"y":11.07},{"g":81,"x":0.831,"y":11.62},{"g":81,"x":0.834,"y":11.12},{"g":81,"x":0.837,"y":11.54},{"g":81,"x":0.84,"y":10.9},{"g":81,"x":0.843,"y":11.31},{"g":81,"x":0.846,"y":11.02},{"g":81,"x":0.849,"y":11.49},{"g":81,"x":0.852,"y":10.88},{"g":81,"x":0.855,"y":11.42},{"g":81,"x":0.858,"y":10.96},{"g":81,"x":0.861,"y":11.48},{"g":81,"x":0.864,"y":11.07},{"g":81,"x":0.867,"y":11.54},{"g":81,"x":0.87,"y":10.98},{"g":81,"x":0.873,"y":11.37},{"g":81,"x":0.876,"y":10.93},{"g":81,"x":0.879,"y":11.44},{"g":81,"x":0.882,"y":11.16},{"g":81,"x":0.885,"y":11.56},{"g":81,"x":0.888,"y":11.04},{"g":81,"x":0.891,"y":11.4},{"g":81,"x":0.894,"y":10.99},{"g":81,"x":0.897,"y":11.34},{"g":81,"x":0.9,"y":11.08},{"g":81,"x":0.903,"y":11.48},{"g":81,"x":0.906,"y":11.15},{"g":81,"x":0.909,"y":11.51},{"g":81,"x":0.912,"y":11.01},{"g":81,"x":0.915,"y":11.33},{"g":81,"x":0.918,"y":11.11},{"g":81,"x":0.921,"y":11.44},{"g":81,"x":0.924,"y":11.18},{"g":81,"x":0.927,"y":11.54},{"g":81,"x":0.93,"y":11.13},{"g":81,"x":0.933,"y":11.44},{"g":81,"x":0.936,"y":11.12},{"g":81,"x":0.939,"y":11.4},{"g":81,"x":0.942,"y":11.2},{"g":81,"x":0.945,"y":11.51},{"g":81,"x":0.948,"y":11.31},{"g":81,"x":0.951,"y":11.49},{"g":81,"x":0.954,"y":11.17},{"g":81,"x":0.957,"y":11.44},{"g":81,"x":0.96,"y":11.28},{"g":81,"x":0.963,"y":11.54},{"g":81,"x":0.966,"y":11.26},{"g":81,"x":0.969,"y":11.49},{"g":81,"x":0.972,"y":11.33},{"g":81,"x":0.975,"y":11.56},{"g":81,"x":0.978,"y":11.37},{"g":81,"x":0.981,"y":11.53},{"g":81,"x":0.984,"y":11.29},{"g":81,"x":0.987,"y":11.45},{"g":81,"x":0.99,"y":11.35},{"g":81,"x":0.993,"y":11.53},{"g":81,"x":0.996,"y":11.32},{"g":81,"x":0.999,"y":11.51},
{"g":81,"x":1.005,"y":11.54},{"g":81,"x":1.015,"y":11.54},{"g":81,"x":1.025,"y":11.63},{"g":81,"x":1.035,"y":11.63},{"g":81,"x":1.045,"y":11.75},{"g":81,"x":1.055,"y":11.76},{"g":81,"x":1.065,"y":11.87},{"g":81,"x":1.075,"y":11.85},{"g":81,"x":1.085,"y":11.94},{"g":81,"x":1.095,"y":11.73},{"g":81,"x":1.105,"y":11.52},{"g":81,"x":1.115,"y":11.28},{"g":81,"x":1.125,"y":11.32},{"g":81,"x":1.135,"y":11.27},{"g":81,"x":1.145,"y":11.32},{"g":81,"x":1.155,"y":11.24},{"g":81,"x":1.165,"y":11.29},{"g":81,"x":1.175,"y":11.26},{"g":81,"x":1.185,"y":11.37},{"g":81,"x":1.195,"y":11.4},{"g":81,"x":1.205,"y":11.51},{"g":81,"x":1.215,"y":11.53},{"g":81,"x":1.225,"y":11.68},{"g":81,"x":1.235,"y":11.72},{"g":81,"x":1.245,"y":11.91},{"g":81,"x":1.255,"y":11.97},{"g":81,"x":1.265,"y":12.13},{"g":81,"x":1.275,"y":12.13},{"g":81,"x":1.285,"y":12.11},{"g":81,"x":1.295,"y":11.94},{"g":81,"x":1.305,"y":11.87},{"g":81,"x":1.315,"y":11.64},{"g":81,"x":1.325,"y":11.54},{"g":81,"x":1.335,"y":11.35},{"g":81,"x":1.345,"y":11.31},
{"g":82,"x":1.42,"y":11.22},{"g":82,"x":1.43,"y":11.18},{"g":82,"x":1.44,"y":11.24},{"g":82,"x":1.45,"y":11.2},{"g":82,"x":1.46,"y":11.27},{"g":82,"x":1.47,"y":11.25},{"g":82,"x":1.48,"y":11.32},{"g":82,"x":1.49,"y":11.31},{"g":82,"x":1.5,"y":11.39},{"g":82,"x":1.51,"y":11.38},{"g":82,"x":1.52,"y":11.47},{"g":82,"x":1.53,"y":11.49},{"g":82,"x":1.54,"y":11.55},{"g":82,"x":1.55,"y":11.58},{"g":82,"x":1.56,"y":11.65},{"g":82,"x":1.57,"y":11.68},{"g":82,"x":1.58,"y":11.74},{"g":82,"x":1.59,"y":11.7},{"g":82,"x":1.6,"y":11.52},{"g":82,"x":1.61,"y":11.38},{"g":82,"x":1.62,"y":11.28},{"g":82,"x":1.63,"y":11.24},{"g":82,"x":1.64,"y":11.26},{"g":82,"x":1.65,"y":11.21},{"g":82,"x":1.66,"y":11.24},{"g":82,"x":1.67,"y":11.2},{"g":82,"x":1.68,"y":11.23},{"g":82,"x":1.69,"y":11.19},{"g":82,"x":1.7,"y":11.23},{"g":82,"x":1.71,"y":11.2},{"g":82,"x":1.72,"y":11.22},{"g":82,"x":1.73,"y":11.18},{"g":82,"x":1.74,"y":11.22},{"g":82,"x":1.75,"y":11.19},{"g":82,"x":1.76,"y":11.23},{"g":82,"x":1.77,"y":11.18},{"g":82,"x":1.78,"y":11.22},{"g":82,"x":1.79,"y":11.19},{"g":82,"x":1.8,"y":11.24},{"g":82,"x":1.81,"y":11.2},
{"g":83,"x":1.955,"y":11.24},{"g":83,"x":1.979,"y":11.27},{"g":83,"x":2.003,"y":11.3},{"g":83,"x":2.027,"y":11.33},{"g":83,"x":2.051,"y":11.35},{"g":83,"x":2.075,"y":11.37},{"g":83,"x":2.099,"y":11.34},{"g":83,"x":2.123,"y":11.31},{"g":83,"x":2.147,"y":11.27},{"g":83,"x":2.171,"y":11.22},{"g":83,"x":2.195,"y":11.19},{"g":83,"x":2.219,"y":11.22},{"g":83,"x":2.243,"y":11.19},{"g":83,"x":2.267,"y":11.21},{"g":83,"x":2.291,"y":11.18},{"g":83,"x":2.315,"y":11.22},{"g":83,"x":2.339,"y":11.19},{"g":83,"x":2.363,"y":11.23},{"g":83,"x":2.387,"y":11.21},
{"g":91,"x":1.012,"y":12.88},{"g":91,"x":1.02,"y":12.93},{"g":91,"x":1.03,"y":12.94},{"g":91,"x":1.04,"y":12.99},{"g":91,"x":1.05,"y":13.0},{"g":91,"x":1.06,"y":13.05},{"g":91,"x":1.07,"y":13.06},{"g":91,"x":1.08,"y":13.1},{"g":91,"x":1.085,"y":13.07},{"g":91,"x":1.095,"y":13.01},{"g":91,"x":1.105,"y":12.89},{"g":91,"x":1.115,"y":12.86},{"g":91,"x":1.125,"y":12.82},{"g":91,"x":1.135,"y":12.84},{"g":91,"x":1.145,"y":12.81},{"g":91,"x":1.155,"y":12.85},{"g":91,"x":1.165,"y":12.82},{"g":91,"x":1.175,"y":12.88},{"g":91,"x":1.185,"y":12.9},{"g":91,"x":1.195,"y":12.98},{"g":91,"x":1.205,"y":13.05},{"g":91,"x":1.215,"y":13.16},{"g":91,"x":1.225,"y":13.25},{"g":91,"x":1.235,"y":13.38},{"g":91,"x":1.245,"y":13.47},{"g":91,"x":1.255,"y":13.61},{"g":91,"x":1.265,"y":13.7},{"g":91,"x":1.275,"y":13.74},{"g":91,"x":1.285,"y":13.64},{"g":91,"x":1.295,"y":13.54},{"g":91,"x":1.305,"y":13.38},{"g":91,"x":1.315,"y":13.23},{"g":91,"x":1.325,"y":13.05},{"g":91,"x":1.335,"y":12.93},{"g":91,"x":1.345,"y":12.86},
{"g":92,"x":1.42,"y":12.9},{"g":92,"x":1.43,"y":12.92},{"g":92,"x":1.44,"y":12.91},{"g":92,"x":1.45,"y":12.96},{"g":92,"x":1.46,"y":12.95},{"g":92,"x":1.47,"y":13.0},{"g":92,"x":1.48,"y":13.01},{"g":92,"x":1.49,"y":13.07},{"g":92,"x":1.5,"y":13.09},{"g":92,"x":1.51,"y":13.15},{"g":92,"x":1.515,"y":13.4},{"g":92,"x":1.52,"y":13.2},{"g":92,"x":1.53,"y":13.28},{"g":92,"x":1.54,"y":13.34},{"g":92,"x":1.55,"y":13.44},{"g":92,"x":1.56,"y":13.51},{"g":92,"x":1.57,"y":13.63},{"g":92,"x":1.58,"y":13.6},{"g":92,"x":1.59,"y":13.46},{"g":92,"x":1.6,"y":13.2},{"g":92,"x":1.61,"y":13.02},{"g":92,"x":1.62,"y":12.95},{"g":92,"x":1.63,"y":12.91},{"g":92,"x":1.64,"y":12.94},{"g":92,"x":1.65,"y":12.9},{"g":92,"x":1.66,"y":12.93},{"g":92,"x":1.67,"y":12.88},{"g":92,"x":1.68,"y":12.92},{"g":92,"x":1.69,"y":12.88},{"g":92,"x":1.7,"y":12.92},{"g":92,"x":1.71,"y":12.87},{"g":92,"x":1.72,"y":12.91},{"g":92,"x":1.73,"y":12.87},{"g":92,"x":1.74,"y":12.9},{"g":92,"x":1.75,"y":12.86},{"g":92,"x":1.76,"y":12.89},{"g":92,"x":1.77,"y":12.86},{"g":92,"x":1.78,"y":12.88},{"g":92,"x":1.785,"y":13.15},{"g":92,"x":1.79,"y":12.85},{"g":92,"x":1.795,"y":12.45},{"g":92,"x":1.8,"y":12.88},{"g":92,"x":1.81,"y":12.86},
{"g":93,"x":1.955,"y":12.88},{"g":93,"x":1.979,"y":12.9},{"g":93,"x":2.003,"y":13.02},{"g":93,"x":2.027,"y":12.96},{"g":93,"x":2.051,"y":12.99},{"g":93,"x":2.075,"y":13.0},{"g":93,"x":2.099,"y":12.99},{"g":93,"x":2.123,"y":12.97},{"g":93,"x":2.147,"y":12.94},{"g":93,"x":2.171,"y":12.91},{"g":93,"x":2.195,"y":12.88},{"g":93,"x":2.219,"y":12.86},{"g":93,"x":2.243,"y":12.85},{"g":93,"x":2.267,"y":12.84},{"g":93,"x":2.291,"y":12.84},{"g":93,"x":2.315,"y":12.83},{"g":93,"x":2.339,"y":12.84},{"g":93,"x":2.363,"y":12.83},{"g":93,"x":2.387,"y":12.84},
{"g":101,"x":1.0,"y":15.04},{"g":101,"x":1.005,"y":14.4},{"g":101,"x":1.01,"y":15.19},{"g":101,"x":1.015,"y":14.27},{"g":101,"x":1.02,"y":14.95},{"g":101,"x":1.025,"y":13.65},{"g":101,"x":1.03,"y":15.1},{"g":101,"x":1.035,"y":14.62},{"g":101,"x":1.04,"y":15.35},{"g":101,"x":1.045,"y":14.43},{"g":101,"x":1.05,"y":15.11},{"g":101,"x":1.055,"y":14.35},{"g":101,"x":1.06,"y":15.02},{"g":101,"x":1.065,"y":14.53},{"g":101,"x":1.07,"y":15.31},{"g":101,"x":1.075,"y":14.65},{"g":101,"x":1.08,"y":15.38},{"g":101,"x":1.085,"y":14.31},{"g":101,"x":1.09,"y":14.93},{"g":101,"x":1.095,"y":14.37},{"g":101,"x":1.1,"y":14.95},{"g":101,"x":1.105,"y":14.39},{"g":101,"x":1.11,"y":15.0},{"g":101,"x":1.115,"y":14.16},{"g":101,"x":1.12,"y":14.73},{"g":101,"x":1.125,"y":14.1},{"g":101,"x":1.13,"y":14.64},{"g":101,"x":1.135,"y":13.0},{"g":101,"x":1.14,"y":14.86},{"g":101,"x":1.145,"y":14.41},{"g":101,"x":1.15,"y":14.82},{"g":101,"x":1.155,"y":14.05},{"g":101,"x":1.16,"y":14.68},{"g":101,"x":1.165,"y":14.28},{"g":101,"x":1.17,"y":14.91},{"g":101,"x":1.175,"y":14.2},{"g":101,"x":1.18,"y":14.79},{"g":101,"x":1.185,"y":14.36},{"g":101,"x":1.19,"y":15.0},{"g":101,"x":1.195,"y":14.45},{"g":101,"x":1.2,"y":14.98},{"g":101,"x":1.205,"y":14.26},{"g":101,"x":1.21,"y":14.79},{"g":101,"x":1.215,"y":14.47},{"g":101,"x":1.22,"y":15.03},{"g":101,"x":1.225,"y":14.48},{"g":101,"x":1.23,"y":15.06},{"g":101,"x":1.235,"y":14.65},{"g":101,"x":1.24,"y":15.23},{"g":101,"x":1.245,"y":14.87},{"g":101,"x":1.25,"y":15.42},{"g":101,"x":1.255,"y":14.88},{"g":101,"x":1.26,"y":15.36},{"g":101,"x":1.265,"y":14.92},{"g":101,"x":1.27,"y":15.53},{"g":101,"x":1.275,"y":15.2},{"g":101,"x":1.28,"y":15.5},{"g":101,"x":1.285,"y":14.98},{"g":101,"x":1.29,"y":15.35},{"g":101,"x":1.295,"y":14.8},{"g":101,"x":1.3,"y":15.16},{"g":101,"x":1.305,"y":14.78},{"g":101,"x":1.31,"y":15.21},{"g":101,"x":1.315,"y":14.72},{"g":101,"x":1.32,"y":15.12},{"g":101,"x":1.325,"y":14.38},{"g":101,"x":1.33,"y":14.73},{"g":101,"x":1.335,"y":14.35},{"g":101,"x":1.34,"y":14.73},{"g":101,"x":1.345,"y":14.3},
{"g":102,"x":1.42,"y":15.1},{"g":102,"x":1.425,"y":13.9},{"g":102,"x":1.43,"y":14.9},{"g":102,"x":1.435,"y":14.0},{"g":102,"x":1.44,"y":15.0},{"g":102,"x":1.45,"y":14.1},{"g":102,"x":1.46,"y":14.85},{"g":102,"x":1.47,"y":14.3},{"g":102,"x":1.48,"y":14.75},{"g":102,"x":1.49,"y":13.95},{"g":102,"x":1.5,"y":14.7},{"g":102,"x":1.51,"y":14.2},{"g":102,"x":1.52,"y":14.9},{"g":102,"x":1.53,"y":14.35},{"g":102,"x":1.54,"y":14.8},{"g":102,"x":1.55,"y":14.5},{"g":102,"x":1.56,"y":15.0},{"g":102,"x":1.57,"y":14.75},{"g":102,"x":1.58,"y":15.3},{"g":102,"x":1.59,"y":14.85},{"g":102,"x":1.6,"y":15.15},{"g":102,"x":1.61,"y":14.45},{"g":102,"x":1.62,"y":14.8},{"g":102,"x":1.63,"y":14.2},{"g":102,"x":1.64,"y":14.65},{"g":102,"x":1.65,"y":14.3},{"g":102,"x":1.66,"y":14.6},{"g":102,"x":1.67,"y":14.25},{"g":102,"x":1.68,"y":14.55},{"g":102,"x":1.69,"y":14.35},{"g":102,"x":1.7,"y":14.75},{"g":102,"x":1.71,"y":14.3},{"g":102,"x":1.72,"y":14.6},{"g":102,"x":1.73,"y":14.2},{"g":102,"x":1.74,"y":14.55},{"g":102,"x":1.75,"y":14.3},{"g":102,"x":1.76,"y":15.0},{"g":102,"x":1.77,"y":14.35},{"g":102,"x":1.78,"y":14.6},{"g":102,"x":1.79,"y":13.8},{"g":102,"x":1.8,"y":14.95},{"g":102,"x":1.805,"y":13.7},{"g":102,"x":1.81,"y":14.5},
{"g":103,"x":1.955,"y":14.6},{"g":103,"x":1.967,"y":14.95},{"g":103,"x":1.979,"y":14.3},{"g":103,"x":1.991,"y":14.55},{"g":103,"x":2.003,"y":13.55},{"g":103,"x":2.015,"y":14.7},{"g":103,"x":2.027,"y":14.85},{"g":103,"x":2.039,"y":14.45},{"g":103,"x":2.051,"y":14.6},{"g":103,"x":2.063,"y":14.35},{"g":103,"x":2.075,"y":14.55},{"g":103,"x":2.087,"y":14.3},{"g":103,"x":2.099,"y":14.5},{"g":103,"x":2.111,"y":14.2},{"g":103,"x":2.123,"y":13.85},{"g":103,"x":2.135,"y":14.5},{"g":103,"x":2.147,"y":14.35},{"g":103,"x":2.159,"y":14.6},{"g":103,"x":2.171,"y":14.3},{"g":103,"x":2.183,"y":14.55},{"g":103,"x":2.195,"y":14.2},{"g":103,"x":2.207,"y":14.4},{"g":103,"x":2.219,"y":13.95},{"g":103,"x":2.231,"y":14.55},{"g":103,"x":2.243,"y":14.1},{"g":103,"x":2.255,"y":14.45},{"g":103,"x":2.267,"y":14.6},{"g":103,"x":2.279,"y":14.2},{"g":103,"x":2.291,"y":14.65},{"g":103,"x":2.303,"y":14.0},{"g":103,"x":2.315,"y":13.7},{"g":103,"x":2.327,"y":14.4},{"g":103,"x":2.339,"y":14.1},{"g":103,"x":2.351,"y":14.3},{"g":103,"x":2.363,"y":13.8},{"g":103,"x":2.375,"y":14.2},{"g":103,"x":2.387,"y":13.75}
],
"mod":[
{"g":1,"x":0.765,"y":0},{"g":1,"x":0.8,"y":0},{"g":1,"x":0.85,"y":0.01},{"g":1,"x":0.9,"y":0.03},{"g":1,"x":0.95,"y":0.07},{"g":1,"x":0.98,"y":0.14},{"g":1,"x":1.0,"y":0.22},{"g":1,"x":1.02,"y":0.33},{"g":1,"x":1.04,"y":0.43},{"g":1,"x":1.06,"y":0.52},{"g":1,"x":1.075,"y":0.58},{"g":1,"x":1.085,"y":0.58},{"g":1,"x":1.095,"y":0.45},{"g":1,"x":1.105,"y":0.25},{"g":1,"x":1.12,"y":0.12},{"g":1,"x":1.15,"y":0.08},{"g":1,"x":1.18,"y":0.12},{"g":1,"x":1.2,"y":0.22},{"g":1,"x":1.22,"y":0.4},{"g":1,"x":1.24,"y":0.6},{"g":1,"x":1.26,"y":0.85},{"g":1,"x":1.27,"y":0.95},{"g":1,"x":1.28,"y":0.9},{"g":1,"x":1.3,"y":0.68},{"g":1,"x":1.32,"y":0.4},{"g":1,"x":1.34,"y":0.1},{"g":1,"x":1.36,"y":0.02},{"g":1,"x":1.4,"y":0},{"g":1,"x":1.45,"y":0.04},{"g":1,"x":1.48,"y":0.12},{"g":1,"x":1.52,"y":0.26},{"g":1,"x":1.55,"y":0.38},{"g":1,"x":1.575,"y":0.5},{"g":1,"x":1.59,"y":0.45},{"g":1,"x":1.61,"y":0.2},{"g":1,"x":1.63,"y":0.08},{"g":1,"x":1.7,"y":0.05},{"g":1,"x":1.8,"y":0.03},{"g":1,"x":1.9,"y":0.02},{"g":1,"x":2.0,"y":0.06},{"g":1,"x":2.05,"y":0.12},{"g":1,"x":2.08,"y":0.14},{"g":1,"x":2.12,"y":0.1},{"g":1,"x":2.2,"y":0.03},{"g":1,"x":2.3,"y":0},{"g":1,"x":2.39,"y":0},
{"g":2,"x":0.765,"y":1.6},{"g":2,"x":0.8,"y":1.6},{"g":2,"x":0.85,"y":1.61},{"g":2,"x":0.9,"y":1.63},{"g":2,"x":0.95,"y":1.67},{"g":2,"x":0.98,"y":1.74},{"g":2,"x":1.0,"y":1.82},{"g":2,"x":1.02,"y":1.93},{"g":2,"x":1.04,"y":2.03},{"g":2,"x":1.06,"y":2.12},{"g":2,"x":1.075,"y":2.18},{"g":2,"x":1.085,"y":2.18},{"g":2,"x":1.095,"y":2.05},{"g":2,"x":1.105,"y":1.85},{"g":2,"x":1.12,"y":1.72},{"g":2,"x":1.15,"y":1.68},{"g":2,"x":1.18,"y":1.72},{"g":2,"x":1.2,"y":1.82},{"g":2,"x":1.22,"y":2.0},{"g":2,"x":1.24,"y":2.2},{"g":2,"x":1.26,"y":2.45},{"g":2,"x":1.27,"y":2.55},{"g":2,"x":1.28,"y":2.5},{"g":2,"x":1.3,"y":2.28},{"g":2,"x":1.32,"y":2.0},{"g":2,"x":1.34,"y":1.7},{"g":2,"x":1.36,"y":1.62},{"g":2,"x":1.4,"y":1.6},{"g":2,"x":1.45,"y":1.64},{"g":2,"x":1.48,"y":1.72},{"g":2,"x":1.52,"y":1.86},{"g":2,"x":1.55,"y":1.98},{"g":2,"x":1.575,"y":2.1},{"g":2,"x":1.59,"y":2.05},{"g":2,"x":1.61,"y":1.8},{"g":2,"x":1.63,"y":1.68},{"g":2,"x":1.7,"y":1.65},{"g":2,"x":1.8,"y":1.63},{"g":2,"x":1.9,"y":1.62},{"g":2,"x":2.0,"y":1.66},{"g":2,"x":2.05,"y":1.72},{"g":2,"x":2.08,"y":1.74},{"g":2,"x":2.12,"y":1.7},{"g":2,"x":2.2,"y":1.63},{"g":2,"x":2.3,"y":1.6},{"g":2,"x":2.39,"y":1.6},
{"g":3,"x":0.765,"y":3.2},{"g":3,"x":0.8,"y":3.2},{"g":3,"x":0.85,"y":3.21},{"g":3,"x":0.9,"y":3.23},{"g":3,"x":0.95,"y":3.27},{"g":3,"x":0.98,"y":3.34},{"g":3,"x":1.0,"y":3.42},{"g":3,"x":1.02,"y":3.53},{"g":3,"x":1.04,"y":3.63},{"g":3,"x":1.06,"y":3.72},{"g":3,"x":1.075,"y":3.78},{"g":3,"x":1.085,"y":3.78},{"g":3,"x":1.095,"y":3.65},{"g":3,"x":1.105,"y":3.45},{"g":3,"x":1.12,"y":3.32},{"g":3,"x":1.15,"y":3.28},{"g":3,"x":1.18,"y":3.32},{"g":3,"x":1.2,"y":3.42},{"g":3,"x":1.22,"y":3.6},{"g":3,"x":1.24,"y":3.8},{"g":3,"x":1.26,"y":4.05},{"g":3,"x":1.27,"y":4.15},{"g":3,"x":1.28,"y":4.1},{"g":3,"x":1.3,"y":3.88},{"g":3,"x":1.32,"y":3.6},{"g":3,"x":1.34,"y":3.3},{"g":3,"x":1.36,"y":3.22},{"g":3,"x":1.4,"y":3.2},{"g":3,"x":1.45,"y":3.24},{"g":3,"x":1.48,"y":3.32},{"g":3,"x":1.52,"y":3.46},{"g":3,"x":1.55,"y":3.58},{"g":3,"x":1.575,"y":3.7},{"g":3,"x":1.59,"y":3.65},{"g":3,"x":1.61,"y":3.4},{"g":3,"x":1.63,"y":3.28},{"g":3,"x":1.7,"y":3.25},{"g":3,"x":1.8,"y":3.23},{"g":3,"x":1.9,"y":3.22},{"g":3,"x":2.0,"y":3.26},{"g":3,"x":2.05,"y":3.32},{"g":3,"x":2.08,"y":3.34},{"g":3,"x":2.12,"y":3.3},{"g":3,"x":2.2,"y":3.23},{"g":3,"x":2.3,"y":3.2},{"g":3,"x":2.39,"y":3.2},
{"g":4,"x":0.765,"y":4.8},{"g":4,"x":0.8,"y":4.8},{"g":4,"x":0.85,"y":4.81},{"g":4,"x":0.9,"y":4.83},{"g":4,"x":0.95,"y":4.87},{"g":4,"x":0.98,"y":4.94},{"g":4,"x":1.0,"y":5.02},{"g":4,"x":1.02,"y":5.13},{"g":4,"x":1.04,"y":5.23},{"g":4,"x":1.06,"y":5.32},{"g":4,"x":1.075,"y":5.38},{"g":4,"x":1.085,"y":5.38},{"g":4,"x":1.095,"y":5.25},{"g":4,"x":1.105,"y":5.05},{"g":4,"x":1.12,"y":4.92},{"g":4,"x":1.15,"y":4.88},{"g":4,"x":1.18,"y":4.92},{"g":4,"x":1.2,"y":5.02},{"g":4,"x":1.22,"y":5.2},{"g":4,"x":1.24,"y":5.4},{"g":4,"x":1.26,"y":5.65},{"g":4,"x":1.27,"y":5.75},{"g":4,"x":1.28,"y":5.7},{"g":4,"x":1.3,"y":5.48},{"g":4,"x":1.32,"y":5.2},{"g":4,"x":1.34,"y":4.9},{"g":4,"x":1.36,"y":4.82},{"g":4,"x":1.4,"y":4.8},{"g":4,"x":1.45,"y":4.84},{"g":4,"x":1.48,"y":4.92},{"g":4,"x":1.52,"y":5.06},{"g":4,"x":1.55,"y":5.18},{"g":4,"x":1.575,"y":5.3},{"g":4,"x":1.59,"y":5.25},{"g":4,"x":1.61,"y":5.0},{"g":4,"x":1.63,"y":4.88},{"g":4,"x":1.7,"y":4.85},{"g":4,"x":1.8,"y":4.83},{"g":4,"x":1.9,"y":4.82},{"g":4,"x":2.0,"y":4.86},{"g":4,"x":2.05,"y":4.92},{"g":4,"x":2.08,"y":4.94},{"g":4,"x":2.12,"y":4.9},{"g":4,"x":2.2,"y":4.83},{"g":4,"x":2.3,"y":4.8},{"g":4,"x":2.39,"y":4.8},
{"g":5,"x":0.765,"y":6.4},{"g":5,"x":0.8,"y":6.4},{"g":5,"x":0.85,"y":6.41},{"g":5,"x":0.9,"y":6.43},{"g":5,"x":0.95,"y":6.47},{"g":5,"x":0.98,"y":6.54},{"g":5,"x":1.0,"y":6.62},{"g":5,"x":1.02,"y":6.73},{"g":5,"x":1.04,"y":6.83},{"g":5,"x":1.06,"y":6.92},{"g":5,"x":1.075,"y":6.98},{"g":5,"x":1.085,"y":6.98},{"g":5,"x":1.095,"y":6.85},{"g":5,"x":1.105,"y":6.65},{"g":5,"x":1.12,"y":6.52},{"g":5,"x":1.15,"y":6.48},{"g":5,"x":1.18,"y":6.52},{"g":5,"x":1.2,"y":6.62},{"g":5,"x":1.22,"y":6.8},{"g":5,"x":1.24,"y":7.0},{"g":5,"x":1.26,"y":7.25},{"g":5,"x":1.27,"y":7.35},{"g":5,"x":1.28,"y":7.3},{"g":5,"x":1.3,"y":7.08},{"g":5,"x":1.32,"y":6.8},{"g":5,"x":1.34,"y":6.5},{"g":5,"x":1.36,"y":6.42},{"g":5,"x":1.4,"y":6.4},{"g":5,"x":1.45,"y":6.44},{"g":5,"x":1.48,"y":6.52},{"g":5,"x":1.52,"y":6.66},{"g":5,"x":1.55,"y":6.78},{"g":5,"x":1.575,"y":6.9},{"g":5,"x":1.59,"y":6.85},{"g":5,"x":1.61,"y":6.6},{"g":5,"x":1.63,"y":6.48},{"g":5,"x":1.7,"y":6.45},{"g":5,"x":1.8,"y":6.43},{"g":5,"x":1.9,"y":6.42},{"g":5,"x":2.0,"y":6.46},{"g":5,"x":2.05,"y":6.52},{"g":5,"x":2.08,"y":6.54},{"g":5,"x":2.12,"y":6.5},{"g":5,"x":2.2,"y":6.43},{"g":5,"x":2.3,"y":6.4},{"g":5,"x":2.39,"y":6.4},
{"g":6,"x":0.765,"y":8.0},{"g":6,"x":0.8,"y":8.0},{"g":6,"x":0.85,"y":8.01},{"g":6,"x":0.9,"y":8.03},{"g":6,"x":0.95,"y":8.07},{"g":6,"x":0.98,"y":8.14},{"g":6,"x":1.0,"y":8.22},{"g":6,"x":1.02,"y":8.33},{"g":6,"x":1.04,"y":8.43},{"g":6,"x":1.06,"y":8.52},{"g":6,"x":1.075,"y":8.58},{"g":6,"x":1.085,"y":8.58},{"g":6,"x":1.095,"y":8.45},{"g":6,"x":1.105,"y":8.25},{"g":6,"x":1.12,"y":8.12},{"g":6,"x":1.15,"y":8.08},{"g":6,"x":1.18,"y":8.12},{"g":6,"x":1.2,"y":8.22},{"g":6,"x":1.22,"y":8.4},{"g":6,"x":1.24,"y":8.6},{"g":6,"x":1.26,"y":8.85},{"g":6,"x":1.27,"y":8.95},{"g":6,"x":1.28,"y":8.9},{"g":6,"x":1.3,"y":8.68},{"g":6,"x":1.32,"y":8.4},{"g":6,"x":1.34,"y":8.1},{"g":6,"x":1.36,"y":8.02},{"g":6,"x":1.4,"y":8.0},{"g":6,"x":1.45,"y":8.04},{"g":6,"x":1.48,"y":8.12},{"g":6,"x":1.52,"y":8.26},{"g":6,"x":1.55,"y":8.38},{"g":6,"x":1.575,"y":8.5},{"g":6,"x":1.59,"y":8.45},{"g":6,"x":1.61,"y":8.2},{"g":6,"x":1.63,"y":8.08},{"g":6,"x":1.7,"y":8.05},{"g":6,"x":1.8,"y":8.03},{"g":6,"x":1.9,"y":8.02},{"g":6,"x":2.0,"y":8.06},{"g":6,"x":2.05,"y":8.12},{"g":6,"x":2.08,"y":8.14},{"g":6,"x":2.12,"y":8.1},{"g":6,"x":2.2,"y":8.03},{"g":6,"x":2.3,"y":8.0},{"g":6,"x":2.39,"y":8.0},
{"g":7,"x":0.765,"y":9.6},{"g":7,"x":0.8,"y":9.6},{"g":7,"x":0.85,"y":9.61},{"g":7,"x":0.9,"y":9.63},{"g":7,"x":0.95,"y":9.67},{"g":7,"x":0.98,"y":9.74},{"g":7,"x":1.0,"y":9.82},{"g":7,"x":1.02,"y":9.93},{"g":7,"x":1.04,"y":10.03},{"g":7,"x":1.06,"y":10.12},{"g":7,"x":1.075,"y":10.18},{"g":7,"x":1.085,"y":10.18},{"g":7,"x":1.095,"y":10.05},{"g":7,"x":1.105,"y":9.85},{"g":7,"x":1.12,"y":9.72},{"g":7,"x":1.15,"y":9.68},{"g":7,"x":1.18,"y":9.72},{"g":7,"x":1.2,"y":9.82},{"g":7,"x":1.22,"y":10.0},{"g":7,"x":1.24,"y":10.2},{"g":7,"x":1.26,"y":10.45},{"g":7,"x":1.27,"y":10.55},{"g":7,"x":1.28,"y":10.5},{"g":7,"x":1.3,"y":10.28},{"g":7,"x":1.32,"y":10.0},{"g":7,"x":1.34,"y":9.7},{"g":7,"x":1.36,"y":9.62},{"g":7,"x":1.4,"y":9.6},{"g":7,"x":1.45,"y":9.64},{"g":7,"x":1.48,"y":9.72},{"g":7,"x":1.52,"y":9.86},{"g":7,"x":1.55,"y":9.98},{"g":7,"x":1.575,"y":10.1},{"g":7,"x":1.59,"y":10.05},{"g":7,"x":1.61,"y":9.8},{"g":7,"x":1.63,"y":9.68},{"g":7,"x":1.7,"y":9.65},{"g":7,"x":1.8,"y":9.63},{"g":7,"x":1.9,"y":9.62},{"g":7,"x":2.0,"y":9.66},{"g":7,"x":2.05,"y":9.72},{"g":7,"x":2.08,"y":9.74},{"g":7,"x":2.12,"y":9.7},{"g":7,"x":2.2,"y":9.63},{"g":7,"x":2.3,"y":9.6},{"g":7,"x":2.39,"y":9.6},
{"g":8,"x":0.765,"y":11.2},{"g":8,"x":0.8,"y":11.2},{"g":8,"x":0.85,"y":11.21},{"g":8,"x":0.9,"y":11.23},{"g":8,"x":0.95,"y":11.27},{"g":8,"x":0.98,"y":11.34},{"g":8,"x":1.0,"y":11.42},{"g":8,"x":1.02,"y":11.53},{"g":8,"x":1.04,"y":11.63},{"g":8,"x":1.06,"y":11.72},{"g":8,"x":1.075,"y":11.78},{"g":8,"x":1.085,"y":11.78},{"g":8,"x":1.095,"y":11.65},{"g":8,"x":1.105,"y":11.45},{"g":8,"x":1.12,"y":11.32},{"g":8,"x":1.15,"y":11.28},{"g":8,"x":1.18,"y":11.32},{"g":8,"x":1.2,"y":11.42},{"g":8,"x":1.22,"y":11.6},{"g":8,"x":1.24,"y":11.8},{"g":8,"x":1.26,"y":12.05},{"g":8,"x":1.27,"y":12.15},{"g":8,"x":1.28,"y":12.1},{"g":8,"x":1.3,"y":11.88},{"g":8,"x":1.32,"y":11.6},{"g":8,"x":1.34,"y":11.3},{"g":8,"x":1.36,"y":11.22},{"g":8,"x":1.4,"y":11.2},{"g":8,"x":1.45,"y":11.24},{"g":8,"x":1.48,"y":11.32},{"g":8,"x":1.52,"y":11.46},{"g":8,"x":1.55,"y":11.58},{"g":8,"x":1.575,"y":11.7},{"g":8,"x":1.59,"y":11.65},{"g":8,"x":1.61,"y":11.4},{"g":8,"x":1.63,"y":11.28},{"g":8,"x":1.7,"y":11.25},{"g":8,"x":1.8,"y":11.23},{"g":8,"x":1.9,"y":11.22},{"g":8,"x":2.0,"y":11.26},{"g":8,"x":2.05,"y":11.32},{"g":8,"x":2.08,"y":11.34},{"g":8,"x":2.12,"y":11.3},{"g":8,"x":2.2,"y":11.23},{"g":8,"x":2.3,"y":11.2},{"g":8,"x":2.39,"y":11.2},
{"g":9,"x":0.765,"y":12.8},{"g":9,"x":0.8,"y":12.8},{"g":9,"x":0.85,"y":12.81},{"g":9,"x":0.9,"y":12.84},{"g":9,"x":0.95,"y":12.89},{"g":9,"x":0.98,"y":12.97},{"g":9,"x":1.0,"y":13.06},{"g":9,"x":1.02,"y":13.18},{"g":9,"x":1.04,"y":13.28},{"g":9,"x":1.06,"y":13.37},{"g":9,"x":1.075,"y":13.44},{"g":9,"x":1.085,"y":13.44},{"g":9,"x":1.095,"y":13.3},{"g":9,"x":1.105,"y":13.08},{"g":9,"x":1.12,"y":12.93},{"g":9,"x":1.15,"y":12.88},{"g":9,"x":1.18,"y":12.92},{"g":9,"x":1.2,"y":13.02},{"g":9,"x":1.22,"y":13.2},{"g":9,"x":1.24,"y":13.4},{"g":9,"x":1.26,"y":13.65},{"g":9,"x":1.27,"y":13.75},{"g":9,"x":1.28,"y":13.7},{"g":9,"x":1.3,"y":13.48},{"g":9,"x":1.32,"y":13.2},{"g":9,"x":1.34,"y":12.9},{"g":9,"x":1.36,"y":12.82},{"g":9,"x":1.4,"y":12.8},{"g":9,"x":1.45,"y":12.85},{"g":9,"x":1.48,"y":12.95},{"g":9,"x":1.52,"y":13.15},{"g":9,"x":1.55,"y":13.32},{"g":9,"x":1.575,"y":13.55},{"g":9,"x":1.59,"y":13.46},{"g":9,"x":1.61,"y":13.08},{"g":9,"x":1.63,"y":12.9},{"g":9,"x":1.7,"y":12.86},{"g":9,"x":1.8,"y":12.84},{"g":9,"x":1.9,"y":12.83},{"g":9,"x":2.0,"y":12.9},{"g":9,"x":2.05,"y":12.98},{"g":9,"x":2.08,"y":13.0},{"g":9,"x":2.12,"y":12.96},{"g":9,"x":2.2,"y":12.86},{"g":9,"x":2.3,"y":12.82},{"g":9,"x":2.39,"y":12.81},
{"g":10,"x":0.765,"y":14.4},{"g":10,"x":0.8,"y":14.4},{"g":10,"x":0.85,"y":14.41},{"g":10,"x":0.9,"y":14.43},{"g":10,"x":0.95,"y":14.47},{"g":10,"x":0.98,"y":14.54},{"g":10,"x":1.0,"y":14.62},{"g":10,"x":1.02,"y":14.73},{"g":10,"x":1.04,"y":14.83},{"g":10,"x":1.06,"y":14.92},{"g":10,"x":1.075,"y":14.98},{"g":10,"x":1.085,"y":14.98},{"g":10,"x":1.095,"y":14.85},{"g":10,"x":1.105,"y":14.65},{"g":10,"x":1.12,"y":14.52},{"g":10,"x":1.15,"y":14.48},{"g":10,"x":1.18,"y":14.52},{"g":10,"x":1.2,"y":14.62},{"g":10,"x":1.22,"y":14.8},{"g":10,"x":1.24,"y":15.0},{"g":10,"x":1.26,"y":15.25},{"g":10,"x":1.27,"y":15.35},{"g":10,"x":1.28,"y":15.3},{"g":10,"x":1.3,"y":15.08},{"g":10,"x":1.32,"y":14.8},{"g":10,"x":1.34,"y":14.5},{"g":10,"x":1.36,"y":14.42},{"g":10,"x":1.4,"y":14.4},{"g":10,"x":1.45,"y":14.44},{"g":10,"x":1.48,"y":14.52},{"g":10,"x":1.52,"y":14.66},{"g":10,"x":1.55,"y":14.78},{"g":10,"x":1.575,"y":14.9},{"g":10,"x":1.59,"y":14.85},{"g":10,"x":1.61,"y":14.6},{"g":10,"x":1.63,"y":14.48},{"g":10,"x":1.7,"y":14.45},{"g":10,"x":1.8,"y":14.43},{"g":10,"x":1.9,"y":14.42},{"g":10,"x":2.0,"y":14.46},{"g":10,"x":2.05,"y":14.52},{"g":10,"x":2.08,"y":14.54},{"g":10,"x":2.12,"y":14.5},{"g":10,"x":2.2,"y":14.43},{"g":10,"x":2.3,"y":14.4},{"g":10,"x":2.39,"y":14.4}
]},
"layer":[
{"data":{"name":"ch4"},"mark":{"type":"rule","color":"#6a6a6a","strokeWidth":3.5,"clip":true},
"encoding":{"x":{"field":"x","type":"quantitative","scale":{"domain":[0.762,2.386],"nice":false,"zero":false},"axis":{"orient":"top","values":[1,1.5,2],"labels":false,"tickSize":-13,"domain":true,"title":null}},"x2":{"field":"x2"},
"y":{"field":"y","type":"quantitative","scale":{"domain":[-1,16],"nice":false,"zero":false},"axis":{"orient":"right","values":[0,5,10,15],"labels":false,"tickSize":-9,"domain":false,"title":null}}}},
{"data":{"name":"obs"},"mark":{"type":"line","color":"#000","strokeWidth":1.4,"clip":true},
"encoding":{"x":{"field":"x","type":"quantitative","axis":{"orient":"bottom","values":[1,1.5,2],"format":".1f","tickSize":-12,"labelPadding":31,"domain":true,"title":"Wavelength (μm)","titleX":459,"titleY":75,"titleAlign":"center","titleBaseline":"alphabetic"}},
"y":{"field":"y","type":"quantitative","axis":{"orient":"left","values":[0,5,10,15],"tickSize":-16,"labelPadding":25,"domain":true,"title":"Normalized Flux","titleX":-56,"titleY":348,"titleAlign":"center","titleBaseline":"alphabetic","titleAngle":-90}},
"detail":{"field":"g","type":"nominal"}}},
{"data":{"name":"mod"},"mark":{"type":"line","color":"#ee1c1c","strokeWidth":3.2,"strokeDash":[0.1,8.6],"strokeCap":"round","clip":true},
"encoding":{"x":{"field":"x","type":"quantitative","axis":{"orient":"bottom","values":[0.8,0.9,1.1,1.2,1.3,1.4,1.6,1.7,1.8,1.9,2.1,2.2,2.3],"labels":false,"tickSize":-6,"domain":false,"title":null}},
"y":{"field":"y","type":"quantitative","axis":{"orient":"left","values":[1,2,3,4,6,7,8,9,11,12,13,14],"labels":false,"tickSize":-9,"domain":false,"title":null}},
"detail":{"field":"g","type":"nominal"}}},
{"data":{"name":"ch4"},"mark":{"type":"text","text":"CH₄","fontSize":25,"dy":-14,"align":"center","baseline":"middle","color":"#000","clip":true},
"encoding":{"x":{"field":"lx","type":"quantitative","axis":{"orient":"top","values":[0.8,0.9,1.1,1.2,1.3,1.4,1.6,1.7,1.8,1.9,2.1,2.2,2.3],"labels":false,"tickSize":-7,"domain":false,"title":null}},
"y":{"field":"y","type":"quantitative","axis":null}}},
{"data":{"name":"lab"},"mark":{"type":"text","fontSize":23.5,"align":"left","baseline":"middle","color":"#000"},
"encoding":{"x":{"field":"x","type":"quantitative","axis":null},"y":{"field":"y","type":"quantitative","axis":null},"text":{"field":"t"}}}
],
"resolve":{"axis":{"x":"independent","y":"independent"}}
}
